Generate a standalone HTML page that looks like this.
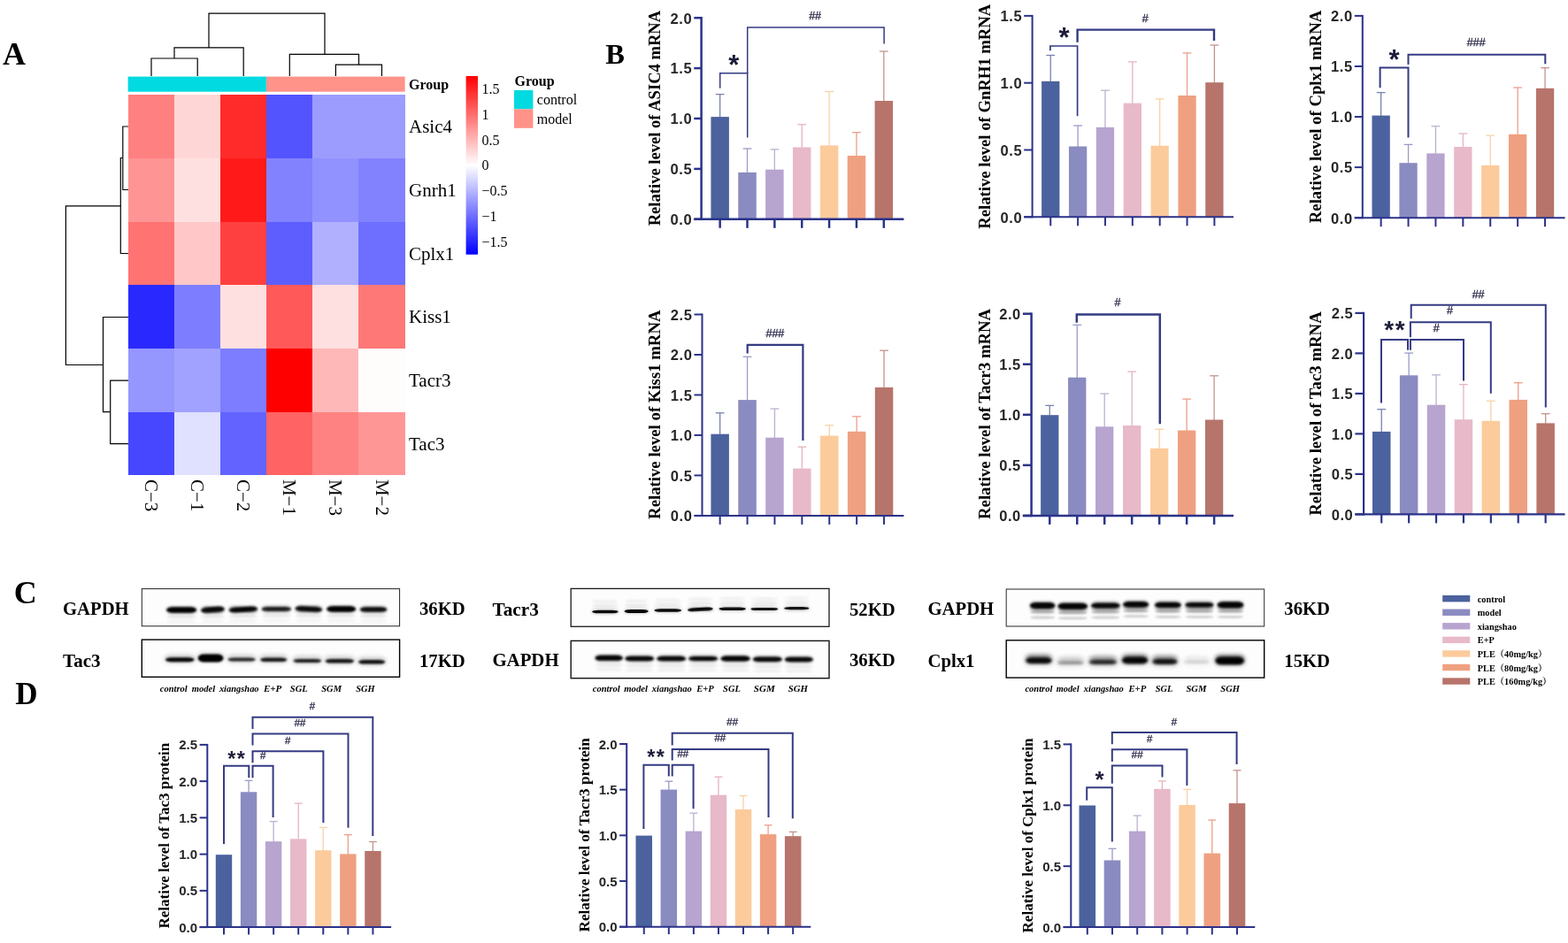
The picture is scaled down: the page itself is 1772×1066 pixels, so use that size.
<!DOCTYPE html>
<html lang="en"><head><meta charset="utf-8"><title>Figure</title>
<style>
html,body{margin:0;padding:0;background:#fff;}
body{width:1772px;height:1066px;overflow:hidden;font-family:"Liberation Serif","Noto Serif CJK SC",serif;}
svg{display:block;}
text{white-space:pre;}
</style></head><body>
<svg width="1772" height="1066" viewBox="0 0 1772 1066">
<rect width="1772" height="1066" fill="#fff"/>
<g id="figure">
<g id="panelA">
<rect x="144.60" y="86.60" width="156.50" height="17.10" fill="#00DAE0"/>
<rect x="301.10" y="86.60" width="156.50" height="17.10" fill="#FF9289"/>
<rect x="145.00" y="107.00" width="52.00" height="72.00" fill="rgb(255,128,128)" shape-rendering="crispEdges"/>
<rect x="197.00" y="107.00" width="52.00" height="72.00" fill="rgb(255,214,214)" shape-rendering="crispEdges"/>
<rect x="249.00" y="107.00" width="52.00" height="72.00" fill="rgb(255,43,43)" shape-rendering="crispEdges"/>
<rect x="301.00" y="107.00" width="52.00" height="72.00" fill="rgb(84,84,255)" shape-rendering="crispEdges"/>
<rect x="353.00" y="107.00" width="52.00" height="72.00" fill="rgb(156,156,255)" shape-rendering="crispEdges"/>
<rect x="405.00" y="107.00" width="53.00" height="72.00" fill="rgb(156,156,255)" shape-rendering="crispEdges"/>
<rect x="145.00" y="179.00" width="52.00" height="72.00" fill="rgb(255,148,148)" shape-rendering="crispEdges"/>
<rect x="197.00" y="179.00" width="52.00" height="72.00" fill="rgb(255,224,224)" shape-rendering="crispEdges"/>
<rect x="249.00" y="179.00" width="52.00" height="72.00" fill="rgb(255,25,25)" shape-rendering="crispEdges"/>
<rect x="301.00" y="179.00" width="52.00" height="72.00" fill="rgb(130,130,255)" shape-rendering="crispEdges"/>
<rect x="353.00" y="179.00" width="52.00" height="72.00" fill="rgb(145,145,255)" shape-rendering="crispEdges"/>
<rect x="405.00" y="179.00" width="53.00" height="72.00" fill="rgb(130,130,255)" shape-rendering="crispEdges"/>
<rect x="145.00" y="251.00" width="52.00" height="71.00" fill="rgb(255,115,115)" shape-rendering="crispEdges"/>
<rect x="197.00" y="251.00" width="52.00" height="71.00" fill="rgb(255,199,199)" shape-rendering="crispEdges"/>
<rect x="249.00" y="251.00" width="52.00" height="71.00" fill="rgb(255,64,64)" shape-rendering="crispEdges"/>
<rect x="301.00" y="251.00" width="52.00" height="71.00" fill="rgb(94,94,255)" shape-rendering="crispEdges"/>
<rect x="353.00" y="251.00" width="52.00" height="71.00" fill="rgb(176,176,255)" shape-rendering="crispEdges"/>
<rect x="405.00" y="251.00" width="53.00" height="71.00" fill="rgb(110,110,255)" shape-rendering="crispEdges"/>
<rect x="145.00" y="322.00" width="52.00" height="72.00" fill="rgb(41,41,255)" shape-rendering="crispEdges"/>
<rect x="197.00" y="322.00" width="52.00" height="72.00" fill="rgb(125,125,255)" shape-rendering="crispEdges"/>
<rect x="249.00" y="322.00" width="52.00" height="72.00" fill="rgb(255,224,224)" shape-rendering="crispEdges"/>
<rect x="301.00" y="322.00" width="52.00" height="72.00" fill="rgb(255,89,89)" shape-rendering="crispEdges"/>
<rect x="353.00" y="322.00" width="52.00" height="72.00" fill="rgb(255,224,224)" shape-rendering="crispEdges"/>
<rect x="405.00" y="322.00" width="53.00" height="72.00" fill="rgb(255,120,120)" shape-rendering="crispEdges"/>
<rect x="145.00" y="394.00" width="52.00" height="72.00" fill="rgb(150,150,255)" shape-rendering="crispEdges"/>
<rect x="197.00" y="394.00" width="52.00" height="72.00" fill="rgb(161,161,255)" shape-rendering="crispEdges"/>
<rect x="249.00" y="394.00" width="52.00" height="72.00" fill="rgb(125,125,255)" shape-rendering="crispEdges"/>
<rect x="301.00" y="394.00" width="52.00" height="72.00" fill="rgb(255,0,0)" shape-rendering="crispEdges"/>
<rect x="353.00" y="394.00" width="52.00" height="72.00" fill="rgb(255,184,184)" shape-rendering="crispEdges"/>
<rect x="405.00" y="394.00" width="53.00" height="72.00" fill="rgb(255,252,252)" shape-rendering="crispEdges"/>
<rect x="145.00" y="466.00" width="52.00" height="71.00" fill="rgb(71,71,255)" shape-rendering="crispEdges"/>
<rect x="197.00" y="466.00" width="52.00" height="71.00" fill="rgb(224,224,255)" shape-rendering="crispEdges"/>
<rect x="249.00" y="466.00" width="52.00" height="71.00" fill="rgb(99,99,255)" shape-rendering="crispEdges"/>
<rect x="301.00" y="466.00" width="52.00" height="71.00" fill="rgb(255,99,99)" shape-rendering="crispEdges"/>
<rect x="353.00" y="466.00" width="52.00" height="71.00" fill="rgb(255,130,130)" shape-rendering="crispEdges"/>
<rect x="405.00" y="466.00" width="53.00" height="71.00" fill="rgb(255,150,150)" shape-rendering="crispEdges"/>
<text x="462.00" y="150.34" font-family="'Liberation Serif','Noto Serif CJK SC',serif" font-size="21">Asic4</text>
<text x="462.00" y="222.02" font-family="'Liberation Serif','Noto Serif CJK SC',serif" font-size="21">Gnrh1</text>
<text x="462.00" y="293.71" font-family="'Liberation Serif','Noto Serif CJK SC',serif" font-size="21">Cplx1</text>
<text x="462.00" y="365.39" font-family="'Liberation Serif','Noto Serif CJK SC',serif" font-size="21">Kiss1</text>
<text x="462.00" y="437.07" font-family="'Liberation Serif','Noto Serif CJK SC',serif" font-size="21">Tacr3</text>
<text x="462.00" y="508.76" font-family="'Liberation Serif','Noto Serif CJK SC',serif" font-size="21">Tac3</text>
<text x="163.78" y="541.90" font-family="'Liberation Serif','Noto Serif CJK SC',serif" font-size="21" transform="rotate(90 163.78 541.90)">C−3</text>
<text x="215.95" y="541.90" font-family="'Liberation Serif','Noto Serif CJK SC',serif" font-size="21" transform="rotate(90 215.95 541.90)">C−1</text>
<text x="268.12" y="541.90" font-family="'Liberation Serif','Noto Serif CJK SC',serif" font-size="21" transform="rotate(90 268.12 541.90)">C−2</text>
<text x="320.28" y="541.90" font-family="'Liberation Serif','Noto Serif CJK SC',serif" font-size="21" transform="rotate(90 320.28 541.90)">M−1</text>
<text x="372.45" y="541.90" font-family="'Liberation Serif','Noto Serif CJK SC',serif" font-size="21" transform="rotate(90 372.45 541.90)">M−3</text>
<text x="424.62" y="541.90" font-family="'Liberation Serif','Noto Serif CJK SC',serif" font-size="21" transform="rotate(90 424.62 541.90)">M−2</text>
<text x="462.00" y="101.30" font-family="'Liberation Serif','Noto Serif CJK SC',serif" font-size="16" font-weight="bold">Group</text>
<path d="M171 86V66H223.2V86" stroke="#000" stroke-width="1.2" fill="none" stroke-linejoin="miter"/>
<path d="M197 66V53.9H275.2V86" stroke="#000" stroke-width="1.2" fill="none" stroke-linejoin="miter"/>
<path d="M236 53.9V15.2H367V61.4" stroke="#000" stroke-width="1.2" fill="none" stroke-linejoin="miter"/>
<path d="M327.3 86V61.4H405.5V73.2" stroke="#000" stroke-width="1.2" fill="none" stroke-linejoin="miter"/>
<path d="M379.4 86V73.2H431.5V86" stroke="#000" stroke-width="1.2" fill="none" stroke-linejoin="miter"/>
<path d="M145 143H138.8V214.5H145" stroke="#000" stroke-width="1.2" fill="none" stroke-linejoin="miter"/>
<path d="M138.8 178.5H136.3V286.5H145" stroke="#000" stroke-width="1.2" fill="none" stroke-linejoin="miter"/>
<path d="M136.3 232.9H74.4V412.5H116.5" stroke="#000" stroke-width="1.2" fill="none" stroke-linejoin="miter"/>
<path d="M145 358.5H116.5V465.7H124.7" stroke="#000" stroke-width="1.2" fill="none" stroke-linejoin="miter"/>
<path d="M145 430.2H124.7V501.6H145" stroke="#000" stroke-width="1.2" fill="none" stroke-linejoin="miter"/>
<defs><linearGradient id="cbg" x1="0" y1="0" x2="0" y2="1"><stop offset="0" stop-color="#ff0000"/><stop offset="0.5" stop-color="#ffffff"/><stop offset="1" stop-color="#0000ff"/></linearGradient></defs>
<rect x="526.60" y="86.00" width="13.40" height="201.70" fill="url(#cbg)"/>
<text x="544.60" y="106.00" font-family="'Liberation Serif','Noto Serif CJK SC',serif" font-size="16">1.5</text>
<text x="544.60" y="135.20" font-family="'Liberation Serif','Noto Serif CJK SC',serif" font-size="16">1</text>
<text x="544.60" y="163.80" font-family="'Liberation Serif','Noto Serif CJK SC',serif" font-size="16">0.5</text>
<text x="544.60" y="192.00" font-family="'Liberation Serif','Noto Serif CJK SC',serif" font-size="16">0</text>
<text x="544.60" y="221.30" font-family="'Liberation Serif','Noto Serif CJK SC',serif" font-size="16">−0.5</text>
<text x="544.60" y="250.30" font-family="'Liberation Serif','Noto Serif CJK SC',serif" font-size="16">−1</text>
<text x="544.60" y="279.00" font-family="'Liberation Serif','Noto Serif CJK SC',serif" font-size="16">−1.5</text>
<text x="581.50" y="96.50" font-family="'Liberation Serif','Noto Serif CJK SC',serif" font-size="16" font-weight="bold">Group</text>
<rect x="581.00" y="102.00" width="21.40" height="21.40" fill="#00DAE0"/>
<rect x="581.00" y="123.40" width="21.40" height="21.40" fill="#FF9289"/>
<text x="606.80" y="118.30" font-family="'Liberation Serif','Noto Serif CJK SC',serif" font-size="16">control</text>
<text x="606.80" y="139.70" font-family="'Liberation Serif','Noto Serif CJK SC',serif" font-size="16">model</text>
</g>
<g id="b1">
<line x1="813.65" y1="132.60" x2="813.65" y2="106.60" stroke="#7783ad" stroke-width="1.3"/>
<line x1="808.75" y1="106.60" x2="818.55" y2="106.60" stroke="#7783ad" stroke-width="1.3"/>
<rect x="803.40" y="132.10" width="20.50" height="115.70" fill="#4B629E"/>
<line x1="844.51" y1="195.40" x2="844.51" y2="168.00" stroke="#9a9bc6" stroke-width="1.3"/>
<line x1="839.61" y1="168.00" x2="849.41" y2="168.00" stroke="#9a9bc6" stroke-width="1.3"/>
<rect x="834.26" y="194.90" width="20.50" height="52.90" fill="#8A8BC0"/>
<line x1="875.37" y1="192.20" x2="875.37" y2="168.90" stroke="#bdb0d0" stroke-width="1.3"/>
<line x1="870.47" y1="168.90" x2="880.27" y2="168.90" stroke="#bdb0d0" stroke-width="1.3"/>
<rect x="865.12" y="191.70" width="20.50" height="56.10" fill="#B7A4CF"/>
<line x1="906.23" y1="167.00" x2="906.23" y2="140.80" stroke="#e3b4c0" stroke-width="1.3"/>
<line x1="901.33" y1="140.80" x2="911.13" y2="140.80" stroke="#e3b4c0" stroke-width="1.3"/>
<rect x="895.98" y="166.50" width="20.50" height="81.30" fill="#E8B9C8"/>
<line x1="937.09" y1="164.90" x2="937.09" y2="103.50" stroke="#f8d2a6" stroke-width="1.3"/>
<line x1="932.19" y1="103.50" x2="941.99" y2="103.50" stroke="#f8d2a6" stroke-width="1.3"/>
<rect x="926.84" y="164.40" width="20.50" height="83.40" fill="#FCCB9C"/>
<line x1="967.95" y1="176.50" x2="967.95" y2="149.70" stroke="#ec9f88" stroke-width="1.3"/>
<line x1="963.05" y1="149.70" x2="972.85" y2="149.70" stroke="#ec9f88" stroke-width="1.3"/>
<rect x="957.70" y="176.00" width="20.50" height="71.80" fill="#EFA081"/>
<line x1="998.81" y1="114.50" x2="998.81" y2="58.00" stroke="#c4938b" stroke-width="1.3"/>
<line x1="993.91" y1="58.00" x2="1003.71" y2="58.00" stroke="#c4938b" stroke-width="1.3"/>
<rect x="988.56" y="114.00" width="20.50" height="133.80" fill="#B7746A"/>
<line x1="792.60" y1="18.95" x2="792.60" y2="249.05" stroke="#2B3289" stroke-width="2.5"/>
<line x1="784.30" y1="247.80" x2="1021.40" y2="247.80" stroke="#2B3289" stroke-width="2.5"/>
<line x1="784.30" y1="247.80" x2="792.60" y2="247.80" stroke="#2B3289" stroke-width="2.5"/>
<text x="782.30" y="254.10" font-family="'Liberation Sans',sans-serif" font-size="16.5" font-weight="bold" text-anchor="end" fill="#262626" letter-spacing="0.6">0.0</text>
<line x1="784.30" y1="190.90" x2="792.60" y2="190.90" stroke="#2B3289" stroke-width="2.5"/>
<text x="782.30" y="197.20" font-family="'Liberation Sans',sans-serif" font-size="16.5" font-weight="bold" text-anchor="end" fill="#262626" letter-spacing="0.6">0.5</text>
<line x1="784.30" y1="134.00" x2="792.60" y2="134.00" stroke="#2B3289" stroke-width="2.5"/>
<text x="782.30" y="140.30" font-family="'Liberation Sans',sans-serif" font-size="16.5" font-weight="bold" text-anchor="end" fill="#262626" letter-spacing="0.6">1.0</text>
<line x1="784.30" y1="77.10" x2="792.60" y2="77.10" stroke="#2B3289" stroke-width="2.5"/>
<text x="782.30" y="83.40" font-family="'Liberation Sans',sans-serif" font-size="16.5" font-weight="bold" text-anchor="end" fill="#262626" letter-spacing="0.6">1.5</text>
<line x1="784.30" y1="20.20" x2="792.60" y2="20.20" stroke="#2B3289" stroke-width="2.5"/>
<text x="782.30" y="26.50" font-family="'Liberation Sans',sans-serif" font-size="16.5" font-weight="bold" text-anchor="end" fill="#262626" letter-spacing="0.6">2.0</text>
<line x1="813.65" y1="247.80" x2="813.65" y2="257.80" stroke="#2B3289" stroke-width="2.5"/>
<line x1="844.51" y1="247.80" x2="844.51" y2="257.80" stroke="#2B3289" stroke-width="2.5"/>
<line x1="875.37" y1="247.80" x2="875.37" y2="257.80" stroke="#2B3289" stroke-width="2.5"/>
<line x1="906.23" y1="247.80" x2="906.23" y2="257.80" stroke="#2B3289" stroke-width="2.5"/>
<line x1="937.09" y1="247.80" x2="937.09" y2="257.80" stroke="#2B3289" stroke-width="2.5"/>
<line x1="967.95" y1="247.80" x2="967.95" y2="257.80" stroke="#2B3289" stroke-width="2.5"/>
<line x1="998.81" y1="247.80" x2="998.81" y2="257.80" stroke="#2B3289" stroke-width="2.5"/>
<text x="746.30" y="255.30" font-family="'Liberation Serif','Noto Serif CJK SC',serif" font-size="18.7" font-weight="bold" transform="rotate(-90 746.30 255.30)" textLength="243.50" lengthAdjust="spacingAndGlyphs">Relative level of ASIC4 mRNA</text>
<path d="M813.70 99.80V82.70H844.70V155.50" stroke="#343b82" stroke-width="1.5" fill="none"/>
<path d="M844.70 82.70V31.00H999.10V49.40" stroke="#343b82" stroke-width="1.5" fill="none"/>
<text x="829.20" y="83.50" font-family="'Liberation Sans',sans-serif" font-size="31" font-weight="bold" text-anchor="middle" fill="#1c1c3a">*</text>
<text x="921.10" y="21.80" font-family="'Liberation Sans',sans-serif" font-size="12.5" text-anchor="middle" fill="#222244" stroke="#222244" stroke-width="0.3">##</text>
</g>
<g id="b2">
<line x1="1187.25" y1="92.40" x2="1187.25" y2="62.50" stroke="#7783ad" stroke-width="1.3"/>
<line x1="1182.35" y1="62.50" x2="1192.15" y2="62.50" stroke="#7783ad" stroke-width="1.3"/>
<rect x="1177.10" y="91.90" width="20.30" height="153.40" fill="#4B629E"/>
<line x1="1218.11" y1="166.00" x2="1218.11" y2="142.00" stroke="#9a9bc6" stroke-width="1.3"/>
<line x1="1213.21" y1="142.00" x2="1223.01" y2="142.00" stroke="#9a9bc6" stroke-width="1.3"/>
<rect x="1207.96" y="165.50" width="20.30" height="79.80" fill="#8A8BC0"/>
<line x1="1248.97" y1="144.40" x2="1248.97" y2="102.20" stroke="#bdb0d0" stroke-width="1.3"/>
<line x1="1244.07" y1="102.20" x2="1253.87" y2="102.20" stroke="#bdb0d0" stroke-width="1.3"/>
<rect x="1238.82" y="143.90" width="20.30" height="101.40" fill="#B7A4CF"/>
<line x1="1279.83" y1="117.10" x2="1279.83" y2="69.90" stroke="#e3b4c0" stroke-width="1.3"/>
<line x1="1274.93" y1="69.90" x2="1284.73" y2="69.90" stroke="#e3b4c0" stroke-width="1.3"/>
<rect x="1269.68" y="116.60" width="20.30" height="128.70" fill="#E8B9C8"/>
<line x1="1310.69" y1="165.20" x2="1310.69" y2="111.90" stroke="#f8d2a6" stroke-width="1.3"/>
<line x1="1305.79" y1="111.90" x2="1315.59" y2="111.90" stroke="#f8d2a6" stroke-width="1.3"/>
<rect x="1300.54" y="164.70" width="20.30" height="80.60" fill="#FCCB9C"/>
<line x1="1341.55" y1="108.50" x2="1341.55" y2="59.90" stroke="#ec9f88" stroke-width="1.3"/>
<line x1="1336.65" y1="59.90" x2="1346.45" y2="59.90" stroke="#ec9f88" stroke-width="1.3"/>
<rect x="1331.40" y="108.00" width="20.30" height="137.30" fill="#EFA081"/>
<line x1="1372.41" y1="93.70" x2="1372.41" y2="51.00" stroke="#c4938b" stroke-width="1.3"/>
<line x1="1367.51" y1="51.00" x2="1377.31" y2="51.00" stroke="#c4938b" stroke-width="1.3"/>
<rect x="1362.26" y="93.20" width="20.30" height="152.10" fill="#B7746A"/>
<line x1="1166.60" y1="16.90" x2="1166.60" y2="246.30" stroke="#2B3289" stroke-width="2.0"/>
<line x1="1157.20" y1="245.30" x2="1394.00" y2="245.30" stroke="#2B3289" stroke-width="2.0"/>
<line x1="1157.20" y1="245.30" x2="1166.60" y2="245.30" stroke="#2B3289" stroke-width="2.0"/>
<text x="1155.20" y="251.60" font-family="'Liberation Sans',sans-serif" font-size="16.5" font-weight="bold" text-anchor="end" fill="#262626" letter-spacing="0.6">0.0</text>
<line x1="1157.20" y1="169.50" x2="1166.60" y2="169.50" stroke="#2B3289" stroke-width="2.0"/>
<text x="1155.20" y="175.80" font-family="'Liberation Sans',sans-serif" font-size="16.5" font-weight="bold" text-anchor="end" fill="#262626" letter-spacing="0.6">0.5</text>
<line x1="1157.20" y1="93.70" x2="1166.60" y2="93.70" stroke="#2B3289" stroke-width="2.0"/>
<text x="1155.20" y="100.00" font-family="'Liberation Sans',sans-serif" font-size="16.5" font-weight="bold" text-anchor="end" fill="#262626" letter-spacing="0.6">1.0</text>
<line x1="1157.20" y1="17.90" x2="1166.60" y2="17.90" stroke="#2B3289" stroke-width="2.0"/>
<text x="1155.20" y="24.20" font-family="'Liberation Sans',sans-serif" font-size="16.5" font-weight="bold" text-anchor="end" fill="#262626" letter-spacing="0.6">1.5</text>
<line x1="1187.25" y1="245.30" x2="1187.25" y2="255.30" stroke="#2B3289" stroke-width="2.0"/>
<line x1="1218.11" y1="245.30" x2="1218.11" y2="255.30" stroke="#2B3289" stroke-width="2.0"/>
<line x1="1248.97" y1="245.30" x2="1248.97" y2="255.30" stroke="#2B3289" stroke-width="2.0"/>
<line x1="1279.83" y1="245.30" x2="1279.83" y2="255.30" stroke="#2B3289" stroke-width="2.0"/>
<line x1="1310.69" y1="245.30" x2="1310.69" y2="255.30" stroke="#2B3289" stroke-width="2.0"/>
<line x1="1341.55" y1="245.30" x2="1341.55" y2="255.30" stroke="#2B3289" stroke-width="2.0"/>
<line x1="1372.41" y1="245.30" x2="1372.41" y2="255.30" stroke="#2B3289" stroke-width="2.0"/>
<text x="1119.30" y="258.70" font-family="'Liberation Serif','Noto Serif CJK SC',serif" font-size="18.7" font-weight="bold" transform="rotate(-90 1119.30 258.70)" textLength="254.00" lengthAdjust="spacingAndGlyphs">Relative level of GnRH1 mRNA</text>
<path d="M1186.90 57.30V52.00H1217.60V131.30" stroke="#343b82" stroke-width="1.7" fill="none"/>
<path d="M1217.60 47.80V33.60H1372.00V46.00" stroke="#343b82" stroke-width="2.4" fill="none"/>
<text x="1202.60" y="53.00" font-family="'Liberation Sans',sans-serif" font-size="31" font-weight="bold" text-anchor="middle" fill="#1c1c3a">*</text>
<text x="1294.30" y="24.70" font-family="'Liberation Sans',sans-serif" font-size="12.5" text-anchor="middle" fill="#222244" stroke="#222244" stroke-width="0.3">#</text>
</g>
<g id="b3">
<line x1="1560.65" y1="131.10" x2="1560.65" y2="104.60" stroke="#7783ad" stroke-width="1.3"/>
<line x1="1555.75" y1="104.60" x2="1565.55" y2="104.60" stroke="#7783ad" stroke-width="1.3"/>
<rect x="1550.50" y="130.60" width="20.30" height="115.60" fill="#4B629E"/>
<line x1="1591.55" y1="184.70" x2="1591.55" y2="163.40" stroke="#9a9bc6" stroke-width="1.3"/>
<line x1="1586.65" y1="163.40" x2="1596.45" y2="163.40" stroke="#9a9bc6" stroke-width="1.3"/>
<rect x="1581.40" y="184.20" width="20.30" height="62.00" fill="#8A8BC0"/>
<line x1="1622.45" y1="173.90" x2="1622.45" y2="142.70" stroke="#bdb0d0" stroke-width="1.3"/>
<line x1="1617.55" y1="142.70" x2="1627.35" y2="142.70" stroke="#bdb0d0" stroke-width="1.3"/>
<rect x="1612.30" y="173.40" width="20.30" height="72.80" fill="#B7A4CF"/>
<line x1="1653.35" y1="166.50" x2="1653.35" y2="151.00" stroke="#e3b4c0" stroke-width="1.3"/>
<line x1="1648.45" y1="151.00" x2="1658.25" y2="151.00" stroke="#e3b4c0" stroke-width="1.3"/>
<rect x="1643.20" y="166.00" width="20.30" height="80.20" fill="#E8B9C8"/>
<line x1="1684.25" y1="187.30" x2="1684.25" y2="153.20" stroke="#f8d2a6" stroke-width="1.3"/>
<line x1="1679.35" y1="153.20" x2="1689.15" y2="153.20" stroke="#f8d2a6" stroke-width="1.3"/>
<rect x="1674.10" y="186.80" width="20.30" height="59.40" fill="#FCCB9C"/>
<line x1="1715.15" y1="152.30" x2="1715.15" y2="99.00" stroke="#ec9f88" stroke-width="1.3"/>
<line x1="1710.25" y1="99.00" x2="1720.05" y2="99.00" stroke="#ec9f88" stroke-width="1.3"/>
<rect x="1705.00" y="151.80" width="20.30" height="94.40" fill="#EFA081"/>
<line x1="1746.05" y1="100.30" x2="1746.05" y2="76.70" stroke="#c4938b" stroke-width="1.3"/>
<line x1="1741.15" y1="76.70" x2="1750.95" y2="76.70" stroke="#c4938b" stroke-width="1.3"/>
<rect x="1735.90" y="99.80" width="20.30" height="146.40" fill="#B7746A"/>
<line x1="1539.80" y1="16.90" x2="1539.80" y2="247.20" stroke="#2B3289" stroke-width="2.0"/>
<line x1="1530.80" y1="246.20" x2="1768.60" y2="246.20" stroke="#2B3289" stroke-width="2.0"/>
<line x1="1530.80" y1="246.20" x2="1539.80" y2="246.20" stroke="#2B3289" stroke-width="2.0"/>
<text x="1528.80" y="252.50" font-family="'Liberation Sans',sans-serif" font-size="16.5" font-weight="bold" text-anchor="end" fill="#262626" letter-spacing="0.6">0.0</text>
<line x1="1530.80" y1="189.12" x2="1539.80" y2="189.12" stroke="#2B3289" stroke-width="2.0"/>
<text x="1528.80" y="195.43" font-family="'Liberation Sans',sans-serif" font-size="16.5" font-weight="bold" text-anchor="end" fill="#262626" letter-spacing="0.6">0.5</text>
<line x1="1530.80" y1="132.05" x2="1539.80" y2="132.05" stroke="#2B3289" stroke-width="2.0"/>
<text x="1528.80" y="138.35" font-family="'Liberation Sans',sans-serif" font-size="16.5" font-weight="bold" text-anchor="end" fill="#262626" letter-spacing="0.6">1.0</text>
<line x1="1530.80" y1="74.97" x2="1539.80" y2="74.97" stroke="#2B3289" stroke-width="2.0"/>
<text x="1528.80" y="81.27" font-family="'Liberation Sans',sans-serif" font-size="16.5" font-weight="bold" text-anchor="end" fill="#262626" letter-spacing="0.6">1.5</text>
<line x1="1530.80" y1="17.90" x2="1539.80" y2="17.90" stroke="#2B3289" stroke-width="2.0"/>
<text x="1528.80" y="24.20" font-family="'Liberation Sans',sans-serif" font-size="16.5" font-weight="bold" text-anchor="end" fill="#262626" letter-spacing="0.6">2.0</text>
<line x1="1560.65" y1="246.20" x2="1560.65" y2="256.20" stroke="#2B3289" stroke-width="2.0"/>
<line x1="1591.55" y1="246.20" x2="1591.55" y2="256.20" stroke="#2B3289" stroke-width="2.0"/>
<line x1="1622.45" y1="246.20" x2="1622.45" y2="256.20" stroke="#2B3289" stroke-width="2.0"/>
<line x1="1653.35" y1="246.20" x2="1653.35" y2="256.20" stroke="#2B3289" stroke-width="2.0"/>
<line x1="1684.25" y1="246.20" x2="1684.25" y2="256.20" stroke="#2B3289" stroke-width="2.0"/>
<line x1="1715.15" y1="246.20" x2="1715.15" y2="256.20" stroke="#2B3289" stroke-width="2.0"/>
<line x1="1746.05" y1="246.20" x2="1746.05" y2="256.20" stroke="#2B3289" stroke-width="2.0"/>
<text x="1493.30" y="252.20" font-family="'Liberation Serif','Noto Serif CJK SC',serif" font-size="18.7" font-weight="bold" transform="rotate(-90 1493.30 252.20)" textLength="240.40" lengthAdjust="spacingAndGlyphs">Relative level of Cplx1 mRNA</text>
<path d="M1559.60 99.30V76.40H1591.50V155.50" stroke="#343b82" stroke-width="2.0" fill="none"/>
<path d="M1591.50 73.00V61.70H1746.30V72.20" stroke="#343b82" stroke-width="2.0" fill="none"/>
<text x="1575.50" y="78.20" font-family="'Liberation Sans',sans-serif" font-size="31" font-weight="bold" text-anchor="middle" fill="#1c1c3a">*</text>
<text x="1668.20" y="52.10" font-family="'Liberation Sans',sans-serif" font-size="12.5" text-anchor="middle" fill="#222244" stroke="#222244" stroke-width="0.3">###</text>
</g>
<g id="b4">
<line x1="813.65" y1="491.20" x2="813.65" y2="466.80" stroke="#7783ad" stroke-width="1.3"/>
<line x1="808.75" y1="466.80" x2="818.55" y2="466.80" stroke="#7783ad" stroke-width="1.3"/>
<rect x="803.40" y="490.70" width="20.50" height="92.20" fill="#4B629E"/>
<line x1="844.55" y1="452.60" x2="844.55" y2="403.30" stroke="#9a9bc6" stroke-width="1.3"/>
<line x1="839.65" y1="403.30" x2="849.45" y2="403.30" stroke="#9a9bc6" stroke-width="1.3"/>
<rect x="834.30" y="452.10" width="20.50" height="130.80" fill="#8A8BC0"/>
<line x1="875.45" y1="495.20" x2="875.45" y2="462.10" stroke="#bdb0d0" stroke-width="1.3"/>
<line x1="870.55" y1="462.10" x2="880.35" y2="462.10" stroke="#bdb0d0" stroke-width="1.3"/>
<rect x="865.20" y="494.70" width="20.50" height="88.20" fill="#B7A4CF"/>
<line x1="906.35" y1="530.10" x2="906.35" y2="505.20" stroke="#e3b4c0" stroke-width="1.3"/>
<line x1="901.45" y1="505.20" x2="911.25" y2="505.20" stroke="#e3b4c0" stroke-width="1.3"/>
<rect x="896.10" y="529.60" width="20.50" height="53.30" fill="#E8B9C8"/>
<line x1="937.25" y1="493.10" x2="937.25" y2="480.80" stroke="#f8d2a6" stroke-width="1.3"/>
<line x1="932.35" y1="480.80" x2="942.15" y2="480.80" stroke="#f8d2a6" stroke-width="1.3"/>
<rect x="927.00" y="492.60" width="20.50" height="90.30" fill="#FCCB9C"/>
<line x1="968.15" y1="488.30" x2="968.15" y2="470.80" stroke="#ec9f88" stroke-width="1.3"/>
<line x1="963.25" y1="470.80" x2="973.05" y2="470.80" stroke="#ec9f88" stroke-width="1.3"/>
<rect x="957.90" y="487.80" width="20.50" height="95.10" fill="#EFA081"/>
<line x1="999.05" y1="438.40" x2="999.05" y2="396.20" stroke="#c4938b" stroke-width="1.3"/>
<line x1="994.15" y1="396.20" x2="1003.95" y2="396.20" stroke="#c4938b" stroke-width="1.3"/>
<rect x="988.80" y="437.90" width="20.50" height="145.00" fill="#B7746A"/>
<line x1="793.50" y1="354.50" x2="793.50" y2="583.90" stroke="#2B3289" stroke-width="2.0"/>
<line x1="784.50" y1="582.90" x2="1021.40" y2="582.90" stroke="#2B3289" stroke-width="2.0"/>
<line x1="784.50" y1="582.90" x2="793.50" y2="582.90" stroke="#2B3289" stroke-width="2.0"/>
<text x="782.50" y="589.20" font-family="'Liberation Sans',sans-serif" font-size="16.5" font-weight="bold" text-anchor="end" fill="#262626" letter-spacing="0.6">0.0</text>
<line x1="784.50" y1="537.42" x2="793.50" y2="537.42" stroke="#2B3289" stroke-width="2.0"/>
<text x="782.50" y="543.72" font-family="'Liberation Sans',sans-serif" font-size="16.5" font-weight="bold" text-anchor="end" fill="#262626" letter-spacing="0.6">0.5</text>
<line x1="784.50" y1="491.94" x2="793.50" y2="491.94" stroke="#2B3289" stroke-width="2.0"/>
<text x="782.50" y="498.24" font-family="'Liberation Sans',sans-serif" font-size="16.5" font-weight="bold" text-anchor="end" fill="#262626" letter-spacing="0.6">1.0</text>
<line x1="784.50" y1="446.46" x2="793.50" y2="446.46" stroke="#2B3289" stroke-width="2.0"/>
<text x="782.50" y="452.76" font-family="'Liberation Sans',sans-serif" font-size="16.5" font-weight="bold" text-anchor="end" fill="#262626" letter-spacing="0.6">1.5</text>
<line x1="784.50" y1="400.98" x2="793.50" y2="400.98" stroke="#2B3289" stroke-width="2.0"/>
<text x="782.50" y="407.28" font-family="'Liberation Sans',sans-serif" font-size="16.5" font-weight="bold" text-anchor="end" fill="#262626" letter-spacing="0.6">2.0</text>
<line x1="784.50" y1="355.50" x2="793.50" y2="355.50" stroke="#2B3289" stroke-width="2.0"/>
<text x="782.50" y="361.80" font-family="'Liberation Sans',sans-serif" font-size="16.5" font-weight="bold" text-anchor="end" fill="#262626" letter-spacing="0.6">2.5</text>
<line x1="813.65" y1="582.90" x2="813.65" y2="592.90" stroke="#2B3289" stroke-width="2.0"/>
<line x1="844.55" y1="582.90" x2="844.55" y2="592.90" stroke="#2B3289" stroke-width="2.0"/>
<line x1="875.45" y1="582.90" x2="875.45" y2="592.90" stroke="#2B3289" stroke-width="2.0"/>
<line x1="906.35" y1="582.90" x2="906.35" y2="592.90" stroke="#2B3289" stroke-width="2.0"/>
<line x1="937.25" y1="582.90" x2="937.25" y2="592.90" stroke="#2B3289" stroke-width="2.0"/>
<line x1="968.15" y1="582.90" x2="968.15" y2="592.90" stroke="#2B3289" stroke-width="2.0"/>
<line x1="999.05" y1="582.90" x2="999.05" y2="592.90" stroke="#2B3289" stroke-width="2.0"/>
<text x="746.30" y="586.90" font-family="'Liberation Serif','Noto Serif CJK SC',serif" font-size="18.7" font-weight="bold" transform="rotate(-90 746.30 586.90)" textLength="236.40" lengthAdjust="spacingAndGlyphs">Relative level of Kiss1 mRNA</text>
<path d="M844.70 399.60V389.90H907.40V498.10" stroke="#343b82" stroke-width="2.2" fill="none"/>
<text x="875.90" y="380.50" font-family="'Liberation Sans',sans-serif" font-size="12.5" text-anchor="middle" fill="#222244" stroke="#222244" stroke-width="0.3">###</text>
</g>
<g id="b5">
<line x1="1186.25" y1="469.70" x2="1186.25" y2="458.40" stroke="#7783ad" stroke-width="1.3"/>
<line x1="1181.35" y1="458.40" x2="1191.15" y2="458.40" stroke="#7783ad" stroke-width="1.3"/>
<rect x="1176.10" y="469.20" width="20.30" height="113.70" fill="#4B629E"/>
<line x1="1217.23" y1="427.20" x2="1217.23" y2="367.30" stroke="#9a9bc6" stroke-width="1.3"/>
<line x1="1212.33" y1="367.30" x2="1222.13" y2="367.30" stroke="#9a9bc6" stroke-width="1.3"/>
<rect x="1207.08" y="426.70" width="20.30" height="156.20" fill="#8A8BC0"/>
<line x1="1248.21" y1="482.80" x2="1248.21" y2="445.00" stroke="#bdb0d0" stroke-width="1.3"/>
<line x1="1243.31" y1="445.00" x2="1253.11" y2="445.00" stroke="#bdb0d0" stroke-width="1.3"/>
<rect x="1238.06" y="482.30" width="20.30" height="100.60" fill="#B7A4CF"/>
<line x1="1279.19" y1="481.50" x2="1279.19" y2="420.10" stroke="#e3b4c0" stroke-width="1.3"/>
<line x1="1274.29" y1="420.10" x2="1284.09" y2="420.10" stroke="#e3b4c0" stroke-width="1.3"/>
<rect x="1269.04" y="481.00" width="20.30" height="101.90" fill="#E8B9C8"/>
<line x1="1310.17" y1="507.30" x2="1310.17" y2="485.20" stroke="#f8d2a6" stroke-width="1.3"/>
<line x1="1305.27" y1="485.20" x2="1315.07" y2="485.20" stroke="#f8d2a6" stroke-width="1.3"/>
<rect x="1300.02" y="506.80" width="20.30" height="76.10" fill="#FCCB9C"/>
<line x1="1341.15" y1="487.00" x2="1341.15" y2="451.10" stroke="#ec9f88" stroke-width="1.3"/>
<line x1="1336.25" y1="451.10" x2="1346.05" y2="451.10" stroke="#ec9f88" stroke-width="1.3"/>
<rect x="1331.00" y="486.50" width="20.30" height="96.40" fill="#EFA081"/>
<line x1="1372.13" y1="475.00" x2="1372.13" y2="424.80" stroke="#c4938b" stroke-width="1.3"/>
<line x1="1367.23" y1="424.80" x2="1377.03" y2="424.80" stroke="#c4938b" stroke-width="1.3"/>
<rect x="1361.98" y="474.50" width="20.30" height="108.40" fill="#B7746A"/>
<line x1="1165.60" y1="353.45" x2="1165.60" y2="584.15" stroke="#2B3289" stroke-width="2.5"/>
<line x1="1155.90" y1="582.90" x2="1394.00" y2="582.90" stroke="#2B3289" stroke-width="2.5"/>
<line x1="1155.90" y1="582.90" x2="1165.60" y2="582.90" stroke="#2B3289" stroke-width="2.5"/>
<text x="1153.90" y="589.20" font-family="'Liberation Sans',sans-serif" font-size="16.5" font-weight="bold" text-anchor="end" fill="#262626" letter-spacing="0.6">0.0</text>
<line x1="1155.90" y1="525.85" x2="1165.60" y2="525.85" stroke="#2B3289" stroke-width="2.5"/>
<text x="1153.90" y="532.15" font-family="'Liberation Sans',sans-serif" font-size="16.5" font-weight="bold" text-anchor="end" fill="#262626" letter-spacing="0.6">0.5</text>
<line x1="1155.90" y1="468.80" x2="1165.60" y2="468.80" stroke="#2B3289" stroke-width="2.5"/>
<text x="1153.90" y="475.10" font-family="'Liberation Sans',sans-serif" font-size="16.5" font-weight="bold" text-anchor="end" fill="#262626" letter-spacing="0.6">1.0</text>
<line x1="1155.90" y1="411.75" x2="1165.60" y2="411.75" stroke="#2B3289" stroke-width="2.5"/>
<text x="1153.90" y="418.05" font-family="'Liberation Sans',sans-serif" font-size="16.5" font-weight="bold" text-anchor="end" fill="#262626" letter-spacing="0.6">1.5</text>
<line x1="1155.90" y1="354.70" x2="1165.60" y2="354.70" stroke="#2B3289" stroke-width="2.5"/>
<text x="1153.90" y="361.00" font-family="'Liberation Sans',sans-serif" font-size="16.5" font-weight="bold" text-anchor="end" fill="#262626" letter-spacing="0.6">2.0</text>
<line x1="1186.25" y1="582.90" x2="1186.25" y2="592.90" stroke="#2B3289" stroke-width="2.5"/>
<line x1="1217.23" y1="582.90" x2="1217.23" y2="592.90" stroke="#2B3289" stroke-width="2.5"/>
<line x1="1248.21" y1="582.90" x2="1248.21" y2="592.90" stroke="#2B3289" stroke-width="2.5"/>
<line x1="1279.19" y1="582.90" x2="1279.19" y2="592.90" stroke="#2B3289" stroke-width="2.5"/>
<line x1="1310.17" y1="582.90" x2="1310.17" y2="592.90" stroke="#2B3289" stroke-width="2.5"/>
<line x1="1341.15" y1="582.90" x2="1341.15" y2="592.90" stroke="#2B3289" stroke-width="2.5"/>
<line x1="1372.13" y1="582.90" x2="1372.13" y2="592.90" stroke="#2B3289" stroke-width="2.5"/>
<text x="1119.30" y="586.90" font-family="'Liberation Serif','Noto Serif CJK SC',serif" font-size="18.7" font-weight="bold" transform="rotate(-90 1119.30 586.90)" textLength="238.00" lengthAdjust="spacingAndGlyphs">Relative level of Tacr3 mRNA</text>
<path d="M1216.80 364.70V355.50H1310.80V479.20" stroke="#343b82" stroke-width="2.5" fill="none"/>
<text x="1263.00" y="346.10" font-family="'Liberation Sans',sans-serif" font-size="12.5" text-anchor="middle" fill="#222244" stroke="#222244" stroke-width="0.3">#</text>
</g>
<g id="b6">
<line x1="1561.25" y1="488.40" x2="1561.25" y2="462.70" stroke="#7783ad" stroke-width="1.3"/>
<line x1="1556.35" y1="462.70" x2="1566.15" y2="462.70" stroke="#7783ad" stroke-width="1.3"/>
<rect x="1551.00" y="487.90" width="20.50" height="93.50" fill="#4B629E"/>
<line x1="1592.15" y1="424.80" x2="1592.15" y2="399.10" stroke="#9a9bc6" stroke-width="1.3"/>
<line x1="1587.25" y1="399.10" x2="1597.05" y2="399.10" stroke="#9a9bc6" stroke-width="1.3"/>
<rect x="1581.90" y="424.30" width="20.50" height="157.10" fill="#8A8BC0"/>
<line x1="1623.05" y1="458.20" x2="1623.05" y2="423.80" stroke="#bdb0d0" stroke-width="1.3"/>
<line x1="1618.15" y1="423.80" x2="1627.95" y2="423.80" stroke="#bdb0d0" stroke-width="1.3"/>
<rect x="1612.80" y="457.70" width="20.50" height="123.70" fill="#B7A4CF"/>
<line x1="1653.95" y1="474.70" x2="1653.95" y2="434.60" stroke="#e3b4c0" stroke-width="1.3"/>
<line x1="1649.05" y1="434.60" x2="1658.85" y2="434.60" stroke="#e3b4c0" stroke-width="1.3"/>
<rect x="1643.70" y="474.20" width="20.50" height="107.20" fill="#E8B9C8"/>
<line x1="1684.85" y1="476.30" x2="1684.85" y2="453.20" stroke="#f8d2a6" stroke-width="1.3"/>
<line x1="1679.95" y1="453.20" x2="1689.75" y2="453.20" stroke="#f8d2a6" stroke-width="1.3"/>
<rect x="1674.60" y="475.80" width="20.50" height="105.60" fill="#FCCB9C"/>
<line x1="1715.75" y1="452.40" x2="1715.75" y2="432.70" stroke="#ec9f88" stroke-width="1.3"/>
<line x1="1710.85" y1="432.70" x2="1720.65" y2="432.70" stroke="#ec9f88" stroke-width="1.3"/>
<rect x="1705.50" y="451.90" width="20.50" height="129.50" fill="#EFA081"/>
<line x1="1746.65" y1="478.90" x2="1746.65" y2="467.70" stroke="#c4938b" stroke-width="1.3"/>
<line x1="1741.75" y1="467.70" x2="1751.55" y2="467.70" stroke="#c4938b" stroke-width="1.3"/>
<rect x="1736.40" y="478.40" width="20.50" height="103.00" fill="#B7746A"/>
<line x1="1541.10" y1="352.80" x2="1541.10" y2="582.50" stroke="#2B3289" stroke-width="2.2"/>
<line x1="1531.40" y1="581.40" x2="1768.60" y2="581.40" stroke="#2B3289" stroke-width="2.2"/>
<line x1="1531.40" y1="581.40" x2="1541.10" y2="581.40" stroke="#2B3289" stroke-width="2.2"/>
<text x="1529.40" y="587.70" font-family="'Liberation Sans',sans-serif" font-size="16.5" font-weight="bold" text-anchor="end" fill="#262626" letter-spacing="0.6">0.0</text>
<line x1="1531.40" y1="535.90" x2="1541.10" y2="535.90" stroke="#2B3289" stroke-width="2.2"/>
<text x="1529.40" y="542.20" font-family="'Liberation Sans',sans-serif" font-size="16.5" font-weight="bold" text-anchor="end" fill="#262626" letter-spacing="0.6">0.5</text>
<line x1="1531.40" y1="490.40" x2="1541.10" y2="490.40" stroke="#2B3289" stroke-width="2.2"/>
<text x="1529.40" y="496.70" font-family="'Liberation Sans',sans-serif" font-size="16.5" font-weight="bold" text-anchor="end" fill="#262626" letter-spacing="0.6">1.0</text>
<line x1="1531.40" y1="444.90" x2="1541.10" y2="444.90" stroke="#2B3289" stroke-width="2.2"/>
<text x="1529.40" y="451.20" font-family="'Liberation Sans',sans-serif" font-size="16.5" font-weight="bold" text-anchor="end" fill="#262626" letter-spacing="0.6">1.5</text>
<line x1="1531.40" y1="399.40" x2="1541.10" y2="399.40" stroke="#2B3289" stroke-width="2.2"/>
<text x="1529.40" y="405.70" font-family="'Liberation Sans',sans-serif" font-size="16.5" font-weight="bold" text-anchor="end" fill="#262626" letter-spacing="0.6">2.0</text>
<line x1="1531.40" y1="353.90" x2="1541.10" y2="353.90" stroke="#2B3289" stroke-width="2.2"/>
<text x="1529.40" y="360.20" font-family="'Liberation Sans',sans-serif" font-size="16.5" font-weight="bold" text-anchor="end" fill="#262626" letter-spacing="0.6">2.5</text>
<line x1="1561.25" y1="581.40" x2="1561.25" y2="591.40" stroke="#2B3289" stroke-width="2.2"/>
<line x1="1592.15" y1="581.40" x2="1592.15" y2="591.40" stroke="#2B3289" stroke-width="2.2"/>
<line x1="1623.05" y1="581.40" x2="1623.05" y2="591.40" stroke="#2B3289" stroke-width="2.2"/>
<line x1="1653.95" y1="581.40" x2="1653.95" y2="591.40" stroke="#2B3289" stroke-width="2.2"/>
<line x1="1684.85" y1="581.40" x2="1684.85" y2="591.40" stroke="#2B3289" stroke-width="2.2"/>
<line x1="1715.75" y1="581.40" x2="1715.75" y2="591.40" stroke="#2B3289" stroke-width="2.2"/>
<line x1="1746.65" y1="581.40" x2="1746.65" y2="591.40" stroke="#2B3289" stroke-width="2.2"/>
<text x="1493.30" y="582.70" font-family="'Liberation Serif','Noto Serif CJK SC',serif" font-size="18.7" font-weight="bold" transform="rotate(-90 1493.30 582.70)" textLength="230.40" lengthAdjust="spacingAndGlyphs">Relative level of Tac3 mRNA</text>
<path d="M1561.00 455.60V383.90H1591.00V395.70" stroke="#343b82" stroke-width="2.0" fill="none"/>
<path d="M1593.90 395.70V383.90H1654.00V430.60" stroke="#343b82" stroke-width="2.0" fill="none"/>
<path d="M1593.90 381.20V364.20H1684.80V444.80" stroke="#343b82" stroke-width="2.0" fill="none"/>
<path d="M1594.70 360.20V344.70H1746.80V460.60" stroke="#343b82" stroke-width="2.0" fill="none"/>
<text x="1576.86" y="382.23" font-family="'Liberation Sans',sans-serif" font-size="27.9" font-weight="bold" text-anchor="middle" fill="#1c1c3a" letter-spacing="1.71">**</text>
<text x="1623.30" y="374.50" font-family="'Liberation Sans',sans-serif" font-size="12.5" text-anchor="middle" fill="#222244" stroke="#222244" stroke-width="0.3">#</text>
<text x="1638.50" y="355.00" font-family="'Liberation Sans',sans-serif" font-size="12.5" text-anchor="middle" fill="#222244" stroke="#222244" stroke-width="0.3">#</text>
<text x="1670.60" y="336.50" font-family="'Liberation Sans',sans-serif" font-size="12.5" text-anchor="middle" fill="#222244" stroke="#222244" stroke-width="0.3">##</text>
</g>
<g id="d1">
<rect x="243.80" y="966.20" width="18.40" height="81.90" fill="#4B629E"/>
<line x1="281.07" y1="895.80" x2="281.07" y2="882.40" stroke="#9a9bc6" stroke-width="1.3"/>
<line x1="276.61" y1="882.40" x2="285.53" y2="882.40" stroke="#9a9bc6" stroke-width="1.3"/>
<rect x="271.87" y="895.30" width="18.40" height="152.80" fill="#8A8BC0"/>
<line x1="309.14" y1="951.70" x2="309.14" y2="928.60" stroke="#bdb0d0" stroke-width="1.3"/>
<line x1="304.68" y1="928.60" x2="313.60" y2="928.60" stroke="#bdb0d0" stroke-width="1.3"/>
<rect x="299.94" y="951.20" width="18.40" height="96.90" fill="#B7A4CF"/>
<line x1="337.21" y1="948.80" x2="337.21" y2="908.10" stroke="#e3b4c0" stroke-width="1.3"/>
<line x1="332.75" y1="908.10" x2="341.67" y2="908.10" stroke="#e3b4c0" stroke-width="1.3"/>
<rect x="328.01" y="948.30" width="18.40" height="99.80" fill="#E8B9C8"/>
<line x1="365.28" y1="961.70" x2="365.28" y2="935.40" stroke="#f8d2a6" stroke-width="1.3"/>
<line x1="360.82" y1="935.40" x2="369.74" y2="935.40" stroke="#f8d2a6" stroke-width="1.3"/>
<rect x="356.08" y="961.20" width="18.40" height="86.90" fill="#FCCB9C"/>
<line x1="393.35" y1="965.90" x2="393.35" y2="943.60" stroke="#ec9f88" stroke-width="1.3"/>
<line x1="388.89" y1="943.60" x2="397.81" y2="943.60" stroke="#ec9f88" stroke-width="1.3"/>
<rect x="384.15" y="965.40" width="18.40" height="82.70" fill="#EFA081"/>
<line x1="421.42" y1="962.50" x2="421.42" y2="951.50" stroke="#c4938b" stroke-width="1.3"/>
<line x1="416.96" y1="951.50" x2="425.88" y2="951.50" stroke="#c4938b" stroke-width="1.3"/>
<rect x="412.22" y="962.00" width="18.40" height="86.10" fill="#B7746A"/>
<line x1="234.30" y1="840.90" x2="234.30" y2="1049.10" stroke="#2B3289" stroke-width="2.0"/>
<line x1="225.60" y1="1048.10" x2="442.10" y2="1048.10" stroke="#2B3289" stroke-width="2.0"/>
<line x1="225.60" y1="1048.10" x2="234.30" y2="1048.10" stroke="#2B3289" stroke-width="2.0"/>
<text x="223.00" y="1053.60" font-family="'Liberation Sans',sans-serif" font-size="15" font-weight="bold" text-anchor="end" fill="#262626">0.0</text>
<line x1="225.60" y1="1006.86" x2="234.30" y2="1006.86" stroke="#2B3289" stroke-width="2.0"/>
<text x="223.00" y="1012.36" font-family="'Liberation Sans',sans-serif" font-size="15" font-weight="bold" text-anchor="end" fill="#262626">0.5</text>
<line x1="225.60" y1="965.62" x2="234.30" y2="965.62" stroke="#2B3289" stroke-width="2.0"/>
<text x="223.00" y="971.12" font-family="'Liberation Sans',sans-serif" font-size="15" font-weight="bold" text-anchor="end" fill="#262626">1.0</text>
<line x1="225.60" y1="924.38" x2="234.30" y2="924.38" stroke="#2B3289" stroke-width="2.0"/>
<text x="223.00" y="929.88" font-family="'Liberation Sans',sans-serif" font-size="15" font-weight="bold" text-anchor="end" fill="#262626">1.5</text>
<line x1="225.60" y1="883.14" x2="234.30" y2="883.14" stroke="#2B3289" stroke-width="2.0"/>
<text x="223.00" y="888.64" font-family="'Liberation Sans',sans-serif" font-size="15" font-weight="bold" text-anchor="end" fill="#262626">2.0</text>
<line x1="225.60" y1="841.90" x2="234.30" y2="841.90" stroke="#2B3289" stroke-width="2.0"/>
<text x="223.00" y="847.40" font-family="'Liberation Sans',sans-serif" font-size="15" font-weight="bold" text-anchor="end" fill="#262626">2.5</text>
<line x1="253.00" y1="1048.10" x2="253.00" y2="1056.50" stroke="#2B3289" stroke-width="2.0"/>
<line x1="281.07" y1="1048.10" x2="281.07" y2="1056.50" stroke="#2B3289" stroke-width="2.0"/>
<line x1="309.14" y1="1048.10" x2="309.14" y2="1056.50" stroke="#2B3289" stroke-width="2.0"/>
<line x1="337.21" y1="1048.10" x2="337.21" y2="1056.50" stroke="#2B3289" stroke-width="2.0"/>
<line x1="365.28" y1="1048.10" x2="365.28" y2="1056.50" stroke="#2B3289" stroke-width="2.0"/>
<line x1="393.35" y1="1048.10" x2="393.35" y2="1056.50" stroke="#2B3289" stroke-width="2.0"/>
<line x1="421.42" y1="1048.10" x2="421.42" y2="1056.50" stroke="#2B3289" stroke-width="2.0"/>
<text x="191.30" y="1049.40" font-family="'Liberation Serif','Noto Serif CJK SC',serif" font-size="17.6" font-weight="bold" transform="rotate(-90 191.30 1049.40)" textLength="209.60" lengthAdjust="spacingAndGlyphs">Relative level of Tac3 protein</text>
<path d="M253.00 954.10V865.80H281.30V879.20" stroke="#343b82" stroke-width="2.0" fill="none"/>
<path d="M285.50 879.20V865.80H308.60V923.90" stroke="#343b82" stroke-width="2.0" fill="none"/>
<path d="M285.50 862.20V849.30H365.40V929.90" stroke="#343b82" stroke-width="2.0" fill="none"/>
<path d="M285.50 842.50V829.60H393.50V935.70" stroke="#343b82" stroke-width="2.0" fill="none"/>
<path d="M285.50 824.10V810.70H421.30V944.90" stroke="#343b82" stroke-width="2.0" fill="none"/>
<text x="267.81" y="865.65" font-family="'Liberation Sans',sans-serif" font-size="23.4" font-weight="bold" text-anchor="middle" fill="#1c1c3a" letter-spacing="1.43">**</text>
<text x="297.10" y="857.89" font-family="'Liberation Sans',sans-serif" font-size="11.38" text-anchor="middle" fill="#222244" stroke="#222244" stroke-width="0.3">#</text>
<text x="325.20" y="840.80" font-family="'Liberation Sans',sans-serif" font-size="11.38" text-anchor="middle" fill="#222244" stroke="#222244" stroke-width="0.3">#</text>
<text x="339.10" y="820.80" font-family="'Liberation Sans',sans-serif" font-size="11.38" text-anchor="middle" fill="#222244" stroke="#222244" stroke-width="0.3">##</text>
<text x="353.00" y="802.20" font-family="'Liberation Sans',sans-serif" font-size="11.38" text-anchor="middle" fill="#222244" stroke="#222244" stroke-width="0.3">#</text>
</g>
<g id="d2">
<rect x="718.50" y="944.60" width="18.50" height="103.10" fill="#4B629E"/>
<line x1="755.82" y1="893.10" x2="755.82" y2="883.20" stroke="#9a9bc6" stroke-width="1.3"/>
<line x1="751.36" y1="883.20" x2="760.28" y2="883.20" stroke="#9a9bc6" stroke-width="1.3"/>
<rect x="746.57" y="892.60" width="18.50" height="155.10" fill="#8A8BC0"/>
<line x1="783.89" y1="940.10" x2="783.89" y2="919.20" stroke="#bdb0d0" stroke-width="1.3"/>
<line x1="779.43" y1="919.20" x2="788.35" y2="919.20" stroke="#bdb0d0" stroke-width="1.3"/>
<rect x="774.64" y="939.60" width="18.50" height="108.10" fill="#B7A4CF"/>
<line x1="811.96" y1="899.20" x2="811.96" y2="878.20" stroke="#e3b4c0" stroke-width="1.3"/>
<line x1="807.50" y1="878.20" x2="816.42" y2="878.20" stroke="#e3b4c0" stroke-width="1.3"/>
<rect x="802.71" y="898.70" width="18.50" height="149.00" fill="#E8B9C8"/>
<line x1="840.03" y1="915.50" x2="840.03" y2="899.50" stroke="#f8d2a6" stroke-width="1.3"/>
<line x1="835.57" y1="899.50" x2="844.49" y2="899.50" stroke="#f8d2a6" stroke-width="1.3"/>
<rect x="830.78" y="915.00" width="18.50" height="132.70" fill="#FCCB9C"/>
<line x1="868.10" y1="943.60" x2="868.10" y2="932.80" stroke="#ec9f88" stroke-width="1.3"/>
<line x1="863.64" y1="932.80" x2="872.56" y2="932.80" stroke="#ec9f88" stroke-width="1.3"/>
<rect x="858.85" y="943.10" width="18.50" height="104.60" fill="#EFA081"/>
<line x1="896.17" y1="945.70" x2="896.17" y2="940.40" stroke="#c4938b" stroke-width="1.3"/>
<line x1="891.71" y1="940.40" x2="900.63" y2="940.40" stroke="#c4938b" stroke-width="1.3"/>
<rect x="886.92" y="945.20" width="18.50" height="102.50" fill="#B7746A"/>
<line x1="708.20" y1="840.00" x2="708.20" y2="1048.70" stroke="#2B3289" stroke-width="2.0"/>
<line x1="700.10" y1="1047.70" x2="916.30" y2="1047.70" stroke="#2B3289" stroke-width="2.0"/>
<line x1="700.10" y1="1047.70" x2="708.20" y2="1047.70" stroke="#2B3289" stroke-width="2.0"/>
<text x="697.50" y="1053.20" font-family="'Liberation Sans',sans-serif" font-size="15" font-weight="bold" text-anchor="end" fill="#262626">0.0</text>
<line x1="700.10" y1="996.03" x2="708.20" y2="996.03" stroke="#2B3289" stroke-width="2.0"/>
<text x="697.50" y="1001.53" font-family="'Liberation Sans',sans-serif" font-size="15" font-weight="bold" text-anchor="end" fill="#262626">0.5</text>
<line x1="700.10" y1="944.35" x2="708.20" y2="944.35" stroke="#2B3289" stroke-width="2.0"/>
<text x="697.50" y="949.85" font-family="'Liberation Sans',sans-serif" font-size="15" font-weight="bold" text-anchor="end" fill="#262626">1.0</text>
<line x1="700.10" y1="892.67" x2="708.20" y2="892.67" stroke="#2B3289" stroke-width="2.0"/>
<text x="697.50" y="898.17" font-family="'Liberation Sans',sans-serif" font-size="15" font-weight="bold" text-anchor="end" fill="#262626">1.5</text>
<line x1="700.10" y1="841.00" x2="708.20" y2="841.00" stroke="#2B3289" stroke-width="2.0"/>
<text x="697.50" y="846.50" font-family="'Liberation Sans',sans-serif" font-size="15" font-weight="bold" text-anchor="end" fill="#262626">2.0</text>
<line x1="727.75" y1="1047.70" x2="727.75" y2="1056.10" stroke="#2B3289" stroke-width="2.0"/>
<line x1="755.82" y1="1047.70" x2="755.82" y2="1056.10" stroke="#2B3289" stroke-width="2.0"/>
<line x1="783.89" y1="1047.70" x2="783.89" y2="1056.10" stroke="#2B3289" stroke-width="2.0"/>
<line x1="811.96" y1="1047.70" x2="811.96" y2="1056.10" stroke="#2B3289" stroke-width="2.0"/>
<line x1="840.03" y1="1047.70" x2="840.03" y2="1056.10" stroke="#2B3289" stroke-width="2.0"/>
<line x1="868.10" y1="1047.70" x2="868.10" y2="1056.10" stroke="#2B3289" stroke-width="2.0"/>
<line x1="896.17" y1="1047.70" x2="896.17" y2="1056.10" stroke="#2B3289" stroke-width="2.0"/>
<text x="666.10" y="1053.40" font-family="'Liberation Serif','Noto Serif CJK SC',serif" font-size="17.6" font-weight="bold" transform="rotate(-90 666.10 1053.40)" textLength="219.30" lengthAdjust="spacingAndGlyphs">Relative level of Tacr3 protein</text>
<path d="M727.40 937.00V864.80H755.80V877.40" stroke="#343b82" stroke-width="2.0" fill="none"/>
<path d="M759.70 877.40V864.80H783.60V914.20" stroke="#343b82" stroke-width="2.0" fill="none"/>
<path d="M759.70 859.50V846.90H868.50V923.90" stroke="#343b82" stroke-width="2.0" fill="none"/>
<path d="M759.70 842.50V828.80H895.80V925.20" stroke="#343b82" stroke-width="2.0" fill="none"/>
<text x="741.82" y="864.05" font-family="'Liberation Sans',sans-serif" font-size="23.4" font-weight="bold" text-anchor="middle" fill="#1c1c3a" letter-spacing="1.43">**</text>
<text x="771.80" y="856.30" font-family="'Liberation Sans',sans-serif" font-size="11.38" text-anchor="middle" fill="#222244" stroke="#222244" stroke-width="0.3">##</text>
<text x="813.80" y="838.20" font-family="'Liberation Sans',sans-serif" font-size="11.38" text-anchor="middle" fill="#222244" stroke="#222244" stroke-width="0.3">##</text>
<text x="827.70" y="820.30" font-family="'Liberation Sans',sans-serif" font-size="11.38" text-anchor="middle" fill="#222244" stroke="#222244" stroke-width="0.3">##</text>
</g>
<g id="d3">
<rect x="1219.50" y="910.50" width="18.60" height="137.60" fill="#4B629E"/>
<line x1="1257.00" y1="973.00" x2="1257.00" y2="959.30" stroke="#9a9bc6" stroke-width="1.3"/>
<line x1="1252.54" y1="959.30" x2="1261.46" y2="959.30" stroke="#9a9bc6" stroke-width="1.3"/>
<rect x="1247.70" y="972.50" width="18.60" height="75.60" fill="#8A8BC0"/>
<line x1="1285.20" y1="940.10" x2="1285.20" y2="922.00" stroke="#bdb0d0" stroke-width="1.3"/>
<line x1="1280.74" y1="922.00" x2="1289.66" y2="922.00" stroke="#bdb0d0" stroke-width="1.3"/>
<rect x="1275.90" y="939.60" width="18.60" height="108.50" fill="#B7A4CF"/>
<line x1="1313.40" y1="892.30" x2="1313.40" y2="882.90" stroke="#e3b4c0" stroke-width="1.3"/>
<line x1="1308.94" y1="882.90" x2="1317.86" y2="882.90" stroke="#e3b4c0" stroke-width="1.3"/>
<rect x="1304.10" y="891.80" width="18.60" height="156.30" fill="#E8B9C8"/>
<line x1="1341.60" y1="910.50" x2="1341.60" y2="892.40" stroke="#f8d2a6" stroke-width="1.3"/>
<line x1="1337.14" y1="892.40" x2="1346.06" y2="892.40" stroke="#f8d2a6" stroke-width="1.3"/>
<rect x="1332.30" y="910.00" width="18.60" height="138.10" fill="#FCCB9C"/>
<line x1="1369.80" y1="965.10" x2="1369.80" y2="927.00" stroke="#ec9f88" stroke-width="1.3"/>
<line x1="1365.34" y1="927.00" x2="1374.26" y2="927.00" stroke="#ec9f88" stroke-width="1.3"/>
<rect x="1360.50" y="964.60" width="18.60" height="83.50" fill="#EFA081"/>
<line x1="1398.00" y1="908.60" x2="1398.00" y2="870.80" stroke="#c4938b" stroke-width="1.3"/>
<line x1="1393.54" y1="870.80" x2="1402.46" y2="870.80" stroke="#c4938b" stroke-width="1.3"/>
<rect x="1388.70" y="908.10" width="18.60" height="140.00" fill="#B7746A"/>
<line x1="1210.30" y1="840.40" x2="1210.30" y2="1049.10" stroke="#2B3289" stroke-width="2.0"/>
<line x1="1201.60" y1="1048.10" x2="1418.30" y2="1048.10" stroke="#2B3289" stroke-width="2.0"/>
<line x1="1201.60" y1="1048.10" x2="1210.30" y2="1048.10" stroke="#2B3289" stroke-width="2.0"/>
<text x="1199.00" y="1053.60" font-family="'Liberation Sans',sans-serif" font-size="15" font-weight="bold" text-anchor="end" fill="#262626">0.0</text>
<line x1="1201.60" y1="979.20" x2="1210.30" y2="979.20" stroke="#2B3289" stroke-width="2.0"/>
<text x="1199.00" y="984.70" font-family="'Liberation Sans',sans-serif" font-size="15" font-weight="bold" text-anchor="end" fill="#262626">0.5</text>
<line x1="1201.60" y1="910.30" x2="1210.30" y2="910.30" stroke="#2B3289" stroke-width="2.0"/>
<text x="1199.00" y="915.80" font-family="'Liberation Sans',sans-serif" font-size="15" font-weight="bold" text-anchor="end" fill="#262626">1.0</text>
<line x1="1201.60" y1="841.40" x2="1210.30" y2="841.40" stroke="#2B3289" stroke-width="2.0"/>
<text x="1199.00" y="846.90" font-family="'Liberation Sans',sans-serif" font-size="15" font-weight="bold" text-anchor="end" fill="#262626">1.5</text>
<line x1="1228.80" y1="1048.10" x2="1228.80" y2="1056.50" stroke="#2B3289" stroke-width="2.0"/>
<line x1="1257.00" y1="1048.10" x2="1257.00" y2="1056.50" stroke="#2B3289" stroke-width="2.0"/>
<line x1="1285.20" y1="1048.10" x2="1285.20" y2="1056.50" stroke="#2B3289" stroke-width="2.0"/>
<line x1="1313.40" y1="1048.10" x2="1313.40" y2="1056.50" stroke="#2B3289" stroke-width="2.0"/>
<line x1="1341.60" y1="1048.10" x2="1341.60" y2="1056.50" stroke="#2B3289" stroke-width="2.0"/>
<line x1="1369.80" y1="1048.10" x2="1369.80" y2="1056.50" stroke="#2B3289" stroke-width="2.0"/>
<line x1="1398.00" y1="1048.10" x2="1398.00" y2="1056.50" stroke="#2B3289" stroke-width="2.0"/>
<text x="1167.40" y="1054.40" font-family="'Liberation Serif','Noto Serif CJK SC',serif" font-size="17.6" font-weight="bold" transform="rotate(-90 1167.40 1054.40)" textLength="219.80" lengthAdjust="spacingAndGlyphs">Relative level of Cplx1 protein</text>
<path d="M1228.20 904.70V890.30H1256.80V951.50" stroke="#343b82" stroke-width="2.0" fill="none"/>
<path d="M1256.80 885.80V865.60H1313.50V878.40" stroke="#343b82" stroke-width="2.0" fill="none"/>
<path d="M1256.80 860.90V847.20H1341.40V887.90" stroke="#343b82" stroke-width="2.0" fill="none"/>
<path d="M1256.80 841.20V828.00H1397.60V864.00" stroke="#343b82" stroke-width="2.0" fill="none"/>
<text x="1242.60" y="890.27" font-family="'Liberation Sans',sans-serif" font-size="26" font-weight="bold" text-anchor="middle" fill="#1c1c3a">*</text>
<text x="1285.20" y="857.10" font-family="'Liberation Sans',sans-serif" font-size="11.38" text-anchor="middle" fill="#222244" stroke="#222244" stroke-width="0.3">##</text>
<text x="1299.10" y="838.70" font-family="'Liberation Sans',sans-serif" font-size="11.38" text-anchor="middle" fill="#222244" stroke="#222244" stroke-width="0.3">#</text>
<text x="1326.90" y="819.80" font-family="'Liberation Sans',sans-serif" font-size="11.38" text-anchor="middle" fill="#222244" stroke="#222244" stroke-width="0.3">#</text>
</g>
<defs>
<filter id="bl0" x="-30%" y="-200%" width="160%" height="500%"><feGaussianBlur stdDeviation="0.6"/></filter>
<filter id="bl1" x="-30%" y="-200%" width="160%" height="500%"><feGaussianBlur stdDeviation="1.0"/></filter>
<filter id="bl2" x="-30%" y="-200%" width="160%" height="500%"><feGaussianBlur stdDeviation="1.6"/></filter>
<filter id="bl3" x="-30%" y="-200%" width="160%" height="500%"><feGaussianBlur stdDeviation="2.4"/></filter>
</defs>
<g id="w1">
<rect x="160.30" y="665.60" width="291.30" height="42.20" fill="#fdfdfd"/>
<clipPath id="w1c0"><rect x="160.3" y="665.6" width="291.3" height="42.19999999999993"/></clipPath>
<g clip-path="url(#w1c0)">
<rect x="188.30" y="695.50" width="33.60" height="3.00" rx="7.00" ry="1.50" fill="#000" opacity="0.12" filter="url(#bl2)"/>
<rect x="188.30" y="701.25" width="33.60" height="2.50" rx="7.00" ry="1.25" fill="#000" opacity="0.06" filter="url(#bl2)"/>
<rect x="187.30" y="685.00" width="35.60" height="9.00" rx="7.00" ry="4.50" fill="#000" opacity="0.25" filter="url(#bl2)"/>
<rect x="227.30" y="695.30" width="26.20" height="3.00" rx="7.00" ry="1.50" fill="#000" opacity="0.114" filter="url(#bl2)"/>
<rect x="227.30" y="701.05" width="26.20" height="2.50" rx="7.00" ry="1.25" fill="#000" opacity="0.057" filter="url(#bl2)"/>
<rect x="226.30" y="684.80" width="28.20" height="9.00" rx="7.00" ry="4.50" fill="#000" opacity="0.237" filter="url(#bl2)"/>
<rect x="258.90" y="695.00" width="32.00" height="3.00" rx="7.00" ry="1.50" fill="#000" opacity="0.116" filter="url(#bl2)"/>
<rect x="258.90" y="700.75" width="32.00" height="2.50" rx="7.00" ry="1.25" fill="#000" opacity="0.058" filter="url(#bl2)"/>
<rect x="257.90" y="684.50" width="34.00" height="9.00" rx="7.00" ry="4.50" fill="#000" opacity="0.242" filter="url(#bl2)"/>
<rect x="295.90" y="694.50" width="32.90" height="3.00" rx="7.00" ry="1.50" fill="#000" opacity="0.102" filter="url(#bl2)"/>
<rect x="295.90" y="700.25" width="32.90" height="2.50" rx="7.00" ry="1.25" fill="#000" opacity="0.051" filter="url(#bl2)"/>
<rect x="294.90" y="684.00" width="34.90" height="9.00" rx="7.00" ry="4.50" fill="#000" opacity="0.212" filter="url(#bl2)"/>
<rect x="333.80" y="694.50" width="30.20" height="3.00" rx="7.00" ry="1.50" fill="#000" opacity="0.114" filter="url(#bl2)"/>
<rect x="333.80" y="700.25" width="30.20" height="2.50" rx="7.00" ry="1.25" fill="#000" opacity="0.057" filter="url(#bl2)"/>
<rect x="332.80" y="684.00" width="32.20" height="9.00" rx="7.00" ry="4.50" fill="#000" opacity="0.237" filter="url(#bl2)"/>
<rect x="369.40" y="694.50" width="32.50" height="3.00" rx="7.00" ry="1.50" fill="#000" opacity="0.12" filter="url(#bl2)"/>
<rect x="369.40" y="700.25" width="32.50" height="2.50" rx="7.00" ry="1.25" fill="#000" opacity="0.06" filter="url(#bl2)"/>
<rect x="368.40" y="684.00" width="34.50" height="9.00" rx="7.00" ry="4.50" fill="#000" opacity="0.25" filter="url(#bl2)"/>
<rect x="407.00" y="695.00" width="30.10" height="3.00" rx="7.00" ry="1.50" fill="#000" opacity="0.11" filter="url(#bl2)"/>
<rect x="407.00" y="700.75" width="30.10" height="2.50" rx="7.00" ry="1.25" fill="#000" opacity="0.055" filter="url(#bl2)"/>
<rect x="406.00" y="684.50" width="32.10" height="9.00" rx="7.00" ry="4.50" fill="#000" opacity="0.23" filter="url(#bl2)"/>
<rect x="188.30" y="686.25" width="33.60" height="6.50" rx="7.00" ry="3.25" fill="#000" opacity="1" filter="url(#bl1)"/>
<rect x="227.30" y="686.05" width="26.20" height="6.50" rx="7.00" ry="3.25" fill="#000" opacity="0.95" filter="url(#bl1)" transform="rotate(-4 240.40 689.30)"/>
<rect x="258.90" y="686.00" width="32.00" height="6.00" rx="7.00" ry="3.00" fill="#000" opacity="0.97" filter="url(#bl1)" transform="rotate(-3 274.90 689.00)"/>
<rect x="295.90" y="686.00" width="32.90" height="5.00" rx="7.00" ry="2.50" fill="#000" opacity="0.85" filter="url(#bl1)"/>
<rect x="333.80" y="685.50" width="30.20" height="6.00" rx="7.00" ry="3.00" fill="#000" opacity="0.95" filter="url(#bl1)" transform="rotate(3 348.90 688.50)"/>
<rect x="369.40" y="685.25" width="32.50" height="6.50" rx="7.00" ry="3.25" fill="#000" opacity="1" filter="url(#bl1)"/>
<rect x="407.00" y="686.25" width="30.10" height="5.50" rx="7.00" ry="2.75" fill="#000" opacity="0.92" filter="url(#bl1)"/>
</g>
<rect x="160.3" y="665.6" width="291.3" height="42.19999999999993" fill="none" stroke="#222" stroke-width="1.0"/>
<text x="71.00" y="694.90" font-family="'Liberation Serif','Noto Serif CJK SC',serif" font-size="20.7" font-weight="bold">GAPDH</text>
<text x="474.00" y="694.90" font-family="'Liberation Serif','Noto Serif CJK SC',serif" font-size="20.7" font-weight="bold">36KD</text>
<rect x="160.30" y="723.10" width="291.30" height="42.20" fill="#fdfdfd"/>
<clipPath id="w1c1"><rect x="160.3" y="723.1" width="291.3" height="42.19999999999993"/></clipPath>
<g clip-path="url(#w1c1)">
<rect x="186.00" y="740.30" width="34.50" height="9.00" rx="7.00" ry="4.50" fill="#000" opacity="0.213" filter="url(#bl3)"/>
<rect x="222.70" y="738.50" width="30.70" height="9.00" rx="7.00" ry="4.50" fill="#000" opacity="0.22" filter="url(#bl3)"/>
<rect x="256.50" y="740.00" width="33.20" height="9.00" rx="7.00" ry="4.50" fill="#000" opacity="0.176" filter="url(#bl3)"/>
<rect x="293.10" y="740.30" width="32.20" height="9.00" rx="7.00" ry="4.50" fill="#000" opacity="0.194" filter="url(#bl3)"/>
<rect x="330.50" y="741.50" width="33.60" height="9.00" rx="7.00" ry="4.50" fill="#000" opacity="0.187" filter="url(#bl3)"/>
<rect x="366.60" y="741.80" width="34.50" height="9.00" rx="7.00" ry="4.50" fill="#000" opacity="0.198" filter="url(#bl3)"/>
<rect x="404.00" y="742.80" width="32.30" height="9.00" rx="7.00" ry="4.50" fill="#000" opacity="0.202" filter="url(#bl3)"/>
<rect x="187.00" y="743.30" width="32.50" height="5.00" rx="7.00" ry="2.50" fill="#000" opacity="0.97" filter="url(#bl1)"/>
<rect x="223.70" y="739.50" width="28.70" height="9.00" rx="7.00" ry="4.50" fill="#000" opacity="1" filter="url(#bl1)"/>
<rect x="257.50" y="743.50" width="31.20" height="4.00" rx="7.00" ry="2.00" fill="#000" opacity="0.8" filter="url(#bl1)"/>
<rect x="294.10" y="743.55" width="30.20" height="4.50" rx="7.00" ry="2.25" fill="#000" opacity="0.88" filter="url(#bl1)"/>
<rect x="331.50" y="745.00" width="31.60" height="4.00" rx="7.00" ry="2.00" fill="#000" opacity="0.85" filter="url(#bl1)"/>
<rect x="367.60" y="745.05" width="32.50" height="4.50" rx="7.00" ry="2.25" fill="#000" opacity="0.9" filter="url(#bl1)"/>
<rect x="405.00" y="746.05" width="30.30" height="4.50" rx="7.00" ry="2.25" fill="#000" opacity="0.92" filter="url(#bl1)"/>
</g>
<rect x="160.3" y="723.1" width="291.3" height="42.19999999999993" fill="none" stroke="#000" stroke-width="1.4"/>
<text x="71.00" y="753.60" font-family="'Liberation Serif','Noto Serif CJK SC',serif" font-size="20.7" font-weight="bold" textLength="42.60" lengthAdjust="spacingAndGlyphs">Tac3</text>
<text x="474.00" y="753.60" font-family="'Liberation Serif','Noto Serif CJK SC',serif" font-size="20.7" font-weight="bold">17KD</text>
<text x="180.80" y="781.50" font-family="'Liberation Serif','Noto Serif CJK SC',serif" font-size="10.5" font-weight="bold" font-style="italic" textLength="30.80" lengthAdjust="spacingAndGlyphs">control</text>
<text x="216.70" y="781.50" font-family="'Liberation Serif','Noto Serif CJK SC',serif" font-size="10.5" font-weight="bold" font-style="italic" textLength="26.40" lengthAdjust="spacingAndGlyphs">model</text>
<text x="247.90" y="781.50" font-family="'Liberation Serif','Noto Serif CJK SC',serif" font-size="10.5" font-weight="bold" font-style="italic" textLength="44.70" lengthAdjust="spacingAndGlyphs">xiangshao</text>
<text x="298.00" y="781.50" font-family="'Liberation Serif','Noto Serif CJK SC',serif" font-size="10.5" font-weight="bold" font-style="italic" textLength="20.30" lengthAdjust="spacingAndGlyphs">E+P</text>
<text x="327.80" y="781.50" font-family="'Liberation Serif','Noto Serif CJK SC',serif" font-size="10.5" font-weight="bold" font-style="italic" textLength="20.00" lengthAdjust="spacingAndGlyphs">SGL</text>
<text x="363.30" y="781.50" font-family="'Liberation Serif','Noto Serif CJK SC',serif" font-size="10.5" font-weight="bold" font-style="italic" textLength="22.70" lengthAdjust="spacingAndGlyphs">SGM</text>
<text x="402.30" y="781.50" font-family="'Liberation Serif','Noto Serif CJK SC',serif" font-size="10.5" font-weight="bold" font-style="italic" textLength="21.30" lengthAdjust="spacingAndGlyphs">SGH</text>
</g>
<g id="w2">
<rect x="645.20" y="665.40" width="291.80" height="42.90" fill="#fdfdfd"/>
<clipPath id="w2c0"><rect x="645.2" y="665.4" width="291.79999999999995" height="42.89999999999998"/></clipPath>
<g clip-path="url(#w2c0)">
<rect x="669.20" y="683.40" width="29.40" height="3.00" rx="7.00" ry="1.50" fill="#000" opacity="0.095" filter="url(#bl2)"/>
<rect x="669.20" y="678.40" width="29.40" height="3.00" rx="7.00" ry="1.50" fill="#000" opacity="0.067" filter="url(#bl2)"/>
<rect x="668.20" y="688.40" width="31.40" height="6.00" rx="7.00" ry="3.00" fill="#000" opacity="0.19" filter="url(#bl2)"/>
<rect x="705.60" y="683.00" width="27.10" height="3.00" rx="7.00" ry="1.50" fill="#000" opacity="0.097" filter="url(#bl2)"/>
<rect x="705.60" y="678.00" width="27.10" height="3.00" rx="7.00" ry="1.50" fill="#000" opacity="0.068" filter="url(#bl2)"/>
<rect x="704.60" y="688.00" width="29.10" height="6.00" rx="7.00" ry="3.00" fill="#000" opacity="0.194" filter="url(#bl2)"/>
<rect x="739.50" y="682.00" width="30.50" height="3.00" rx="7.00" ry="1.50" fill="#000" opacity="0.095" filter="url(#bl2)"/>
<rect x="739.50" y="677.00" width="30.50" height="3.00" rx="7.00" ry="1.50" fill="#000" opacity="0.067" filter="url(#bl2)"/>
<rect x="738.50" y="687.00" width="32.50" height="6.00" rx="7.00" ry="3.00" fill="#000" opacity="0.19" filter="url(#bl2)"/>
<rect x="777.00" y="680.80" width="28.80" height="3.00" rx="7.00" ry="1.50" fill="#000" opacity="0.095" filter="url(#bl2)"/>
<rect x="777.00" y="675.80" width="28.80" height="3.00" rx="7.00" ry="1.50" fill="#000" opacity="0.067" filter="url(#bl2)"/>
<rect x="776.00" y="685.80" width="30.80" height="6.00" rx="7.00" ry="3.00" fill="#000" opacity="0.19" filter="url(#bl2)"/>
<rect x="812.60" y="680.30" width="30.20" height="3.00" rx="7.00" ry="1.50" fill="#000" opacity="0.092" filter="url(#bl2)"/>
<rect x="812.60" y="675.30" width="30.20" height="3.00" rx="7.00" ry="1.50" fill="#000" opacity="0.064" filter="url(#bl2)"/>
<rect x="811.60" y="685.30" width="32.20" height="6.00" rx="7.00" ry="3.00" fill="#000" opacity="0.184" filter="url(#bl2)"/>
<rect x="848.40" y="680.50" width="30.80" height="3.00" rx="7.00" ry="1.50" fill="#000" opacity="0.09" filter="url(#bl2)"/>
<rect x="848.40" y="675.50" width="30.80" height="3.00" rx="7.00" ry="1.50" fill="#000" opacity="0.063" filter="url(#bl2)"/>
<rect x="847.40" y="685.50" width="32.80" height="6.00" rx="7.00" ry="3.00" fill="#000" opacity="0.18" filter="url(#bl2)"/>
<rect x="886.20" y="679.70" width="28.20" height="3.00" rx="7.00" ry="1.50" fill="#000" opacity="0.09" filter="url(#bl2)"/>
<rect x="886.20" y="674.70" width="28.20" height="3.00" rx="7.00" ry="1.50" fill="#000" opacity="0.063" filter="url(#bl2)"/>
<rect x="885.20" y="684.70" width="30.20" height="6.00" rx="7.00" ry="3.00" fill="#000" opacity="0.18" filter="url(#bl2)"/>
<rect x="669.20" y="689.65" width="29.40" height="3.50" rx="7.00" ry="1.75" fill="#000" opacity="0.95" filter="url(#bl0)"/>
<rect x="705.60" y="688.90" width="27.10" height="4.20" rx="7.00" ry="2.10" fill="#000" opacity="0.97" filter="url(#bl0)"/>
<rect x="739.50" y="688.25" width="30.50" height="3.50" rx="7.00" ry="1.75" fill="#000" opacity="0.95" filter="url(#bl0)"/>
<rect x="777.00" y="686.80" width="28.80" height="4.00" rx="7.00" ry="2.00" fill="#000" opacity="0.95" filter="url(#bl0)" transform="rotate(-3 791.40 688.80)"/>
<rect x="812.60" y="686.55" width="30.20" height="3.50" rx="7.00" ry="1.75" fill="#000" opacity="0.92" filter="url(#bl0)"/>
<rect x="848.40" y="686.90" width="30.80" height="3.20" rx="7.00" ry="1.60" fill="#000" opacity="0.9" filter="url(#bl0)"/>
<rect x="886.20" y="686.10" width="28.20" height="3.20" rx="7.00" ry="1.60" fill="#000" opacity="0.9" filter="url(#bl0)"/>
</g>
<rect x="645.2" y="665.4" width="291.79999999999995" height="42.89999999999998" fill="none" stroke="#1a1a1a" stroke-width="1.3"/>
<text x="556.40" y="695.90" font-family="'Liberation Serif','Noto Serif CJK SC',serif" font-size="20.7" font-weight="bold" textLength="52.40" lengthAdjust="spacingAndGlyphs">Tacr3</text>
<text x="960.00" y="695.90" font-family="'Liberation Serif','Noto Serif CJK SC',serif" font-size="20.7" font-weight="bold">52KD</text>
<rect x="645.20" y="724.40" width="291.80" height="42.30" fill="#fdfdfd"/>
<clipPath id="w2c1"><rect x="645.2" y="724.4" width="291.79999999999995" height="42.30000000000007"/></clipPath>
<g clip-path="url(#w2c1)">
<rect x="672.60" y="750.30" width="31.10" height="3.00" rx="7.00" ry="1.50" fill="#000" opacity="0.097" filter="url(#bl2)"/>
<rect x="672.60" y="755.30" width="31.10" height="3.00" rx="7.00" ry="1.50" fill="#000" opacity="0.068" filter="url(#bl2)"/>
<rect x="671.60" y="739.30" width="33.10" height="9.00" rx="7.00" ry="4.50" fill="#000" opacity="0.242" filter="url(#bl2)"/>
<rect x="706.50" y="751.00" width="32.40" height="3.00" rx="7.00" ry="1.50" fill="#000" opacity="0.095" filter="url(#bl2)"/>
<rect x="706.50" y="756.00" width="32.40" height="3.00" rx="7.00" ry="1.50" fill="#000" opacity="0.067" filter="url(#bl2)"/>
<rect x="705.50" y="740.00" width="34.40" height="9.00" rx="7.00" ry="4.50" fill="#000" opacity="0.237" filter="url(#bl2)"/>
<rect x="742.30" y="751.10" width="32.70" height="3.00" rx="7.00" ry="1.50" fill="#000" opacity="0.095" filter="url(#bl2)"/>
<rect x="742.30" y="756.10" width="32.70" height="3.00" rx="7.00" ry="1.50" fill="#000" opacity="0.067" filter="url(#bl2)"/>
<rect x="741.30" y="740.10" width="34.70" height="9.00" rx="7.00" ry="4.50" fill="#000" opacity="0.237" filter="url(#bl2)"/>
<rect x="778.40" y="751.00" width="32.50" height="3.00" rx="7.00" ry="1.50" fill="#000" opacity="0.095" filter="url(#bl2)"/>
<rect x="778.40" y="756.00" width="32.50" height="3.00" rx="7.00" ry="1.50" fill="#000" opacity="0.067" filter="url(#bl2)"/>
<rect x="777.40" y="740.00" width="34.50" height="9.00" rx="7.00" ry="4.50" fill="#000" opacity="0.237" filter="url(#bl2)"/>
<rect x="814.60" y="751.00" width="33.00" height="3.00" rx="7.00" ry="1.50" fill="#000" opacity="0.097" filter="url(#bl2)"/>
<rect x="814.60" y="756.00" width="33.00" height="3.00" rx="7.00" ry="1.50" fill="#000" opacity="0.068" filter="url(#bl2)"/>
<rect x="813.60" y="740.00" width="35.00" height="9.00" rx="7.00" ry="4.50" fill="#000" opacity="0.242" filter="url(#bl2)"/>
<rect x="851.00" y="751.70" width="32.70" height="3.00" rx="7.00" ry="1.50" fill="#000" opacity="0.095" filter="url(#bl2)"/>
<rect x="851.00" y="756.70" width="32.70" height="3.00" rx="7.00" ry="1.50" fill="#000" opacity="0.067" filter="url(#bl2)"/>
<rect x="850.00" y="740.70" width="34.70" height="9.00" rx="7.00" ry="4.50" fill="#000" opacity="0.237" filter="url(#bl2)"/>
<rect x="887.00" y="752.00" width="31.70" height="3.00" rx="7.00" ry="1.50" fill="#000" opacity="0.095" filter="url(#bl2)"/>
<rect x="887.00" y="757.00" width="31.70" height="3.00" rx="7.00" ry="1.50" fill="#000" opacity="0.067" filter="url(#bl2)"/>
<rect x="886.00" y="741.00" width="33.70" height="9.00" rx="7.00" ry="4.50" fill="#000" opacity="0.237" filter="url(#bl2)"/>
<rect x="672.60" y="740.80" width="31.10" height="6.00" rx="7.00" ry="3.00" fill="#000" opacity="0.97" filter="url(#bl1)"/>
<rect x="706.50" y="741.75" width="32.40" height="5.50" rx="7.00" ry="2.75" fill="#000" opacity="0.95" filter="url(#bl1)"/>
<rect x="742.30" y="741.85" width="32.70" height="5.50" rx="7.00" ry="2.75" fill="#000" opacity="0.95" filter="url(#bl1)"/>
<rect x="778.40" y="742.00" width="32.50" height="5.00" rx="7.00" ry="2.50" fill="#000" opacity="0.95" filter="url(#bl1)"/>
<rect x="814.60" y="741.50" width="33.00" height="6.00" rx="7.00" ry="3.00" fill="#000" opacity="0.97" filter="url(#bl1)"/>
<rect x="851.00" y="742.45" width="32.70" height="5.50" rx="7.00" ry="2.75" fill="#000" opacity="0.95" filter="url(#bl1)"/>
<rect x="887.00" y="742.75" width="31.70" height="5.50" rx="7.00" ry="2.75" fill="#000" opacity="0.95" filter="url(#bl1)"/>
</g>
<rect x="645.2" y="724.4" width="291.79999999999995" height="42.30000000000007" fill="none" stroke="#111" stroke-width="1.4"/>
<text x="556.40" y="753.30" font-family="'Liberation Serif','Noto Serif CJK SC',serif" font-size="20.7" font-weight="bold" textLength="75.20" lengthAdjust="spacingAndGlyphs">GAPDH</text>
<text x="960.00" y="753.30" font-family="'Liberation Serif','Noto Serif CJK SC',serif" font-size="20.7" font-weight="bold">36KD</text>
<text x="669.80" y="781.50" font-family="'Liberation Serif','Noto Serif CJK SC',serif" font-size="10.5" font-weight="bold" font-style="italic" textLength="31.00" lengthAdjust="spacingAndGlyphs">control</text>
<text x="705.30" y="781.50" font-family="'Liberation Serif','Noto Serif CJK SC',serif" font-size="10.5" font-weight="bold" font-style="italic" textLength="26.60" lengthAdjust="spacingAndGlyphs">model</text>
<text x="736.70" y="781.50" font-family="'Liberation Serif','Noto Serif CJK SC',serif" font-size="10.5" font-weight="bold" font-style="italic" textLength="45.10" lengthAdjust="spacingAndGlyphs">xiangshao</text>
<text x="787.20" y="781.50" font-family="'Liberation Serif','Noto Serif CJK SC',serif" font-size="10.5" font-weight="bold" font-style="italic" textLength="19.50" lengthAdjust="spacingAndGlyphs">E+P</text>
<text x="817.10" y="781.50" font-family="'Liberation Serif','Noto Serif CJK SC',serif" font-size="10.5" font-weight="bold" font-style="italic" textLength="19.70" lengthAdjust="spacingAndGlyphs">SGL</text>
<text x="851.80" y="781.50" font-family="'Liberation Serif','Noto Serif CJK SC',serif" font-size="10.5" font-weight="bold" font-style="italic" textLength="24.00" lengthAdjust="spacingAndGlyphs">SGM</text>
<text x="890.70" y="781.50" font-family="'Liberation Serif','Noto Serif CJK SC',serif" font-size="10.5" font-weight="bold" font-style="italic" textLength="22.30" lengthAdjust="spacingAndGlyphs">SGH</text>
</g>
<g id="w3">
<rect x="1137.20" y="666.00" width="291.50" height="42.00" fill="#fdfdfd"/>
<clipPath id="w3c0"><rect x="1137.2" y="666.0" width="291.5" height="42.0"/></clipPath>
<g clip-path="url(#w3c0)">
<rect x="1164.00" y="690.50" width="28.20" height="3.00" rx="7.00" ry="1.50" fill="#000" opacity="0.291" filter="url(#bl1)"/>
<rect x="1164.00" y="696.60" width="28.20" height="2.80" rx="7.00" ry="1.40" fill="#000" opacity="0.194" filter="url(#bl1)"/>
<rect x="1164.00" y="685.00" width="28.20" height="6.00" rx="7.00" ry="3.00" fill="#000" opacity="0.242" filter="url(#bl2)"/>
<rect x="1163.00" y="679.50" width="30.20" height="10.00" rx="7.00" ry="5.00" fill="#000" opacity="0.242" filter="url(#bl2)"/>
<rect x="1195.60" y="691.30" width="33.30" height="3.00" rx="7.00" ry="1.50" fill="#000" opacity="0.291" filter="url(#bl1)"/>
<rect x="1195.60" y="697.40" width="33.30" height="2.80" rx="7.00" ry="1.40" fill="#000" opacity="0.194" filter="url(#bl1)"/>
<rect x="1195.60" y="685.80" width="33.30" height="6.00" rx="7.00" ry="3.00" fill="#000" opacity="0.242" filter="url(#bl2)"/>
<rect x="1194.60" y="680.30" width="35.30" height="10.00" rx="7.00" ry="5.00" fill="#000" opacity="0.242" filter="url(#bl2)"/>
<rect x="1233.20" y="690.50" width="32.40" height="3.00" rx="7.00" ry="1.50" fill="#000" opacity="0.285" filter="url(#bl1)"/>
<rect x="1233.20" y="696.60" width="32.40" height="2.80" rx="7.00" ry="1.40" fill="#000" opacity="0.19" filter="url(#bl1)"/>
<rect x="1233.20" y="685.00" width="32.40" height="6.00" rx="7.00" ry="3.00" fill="#000" opacity="0.237" filter="url(#bl2)"/>
<rect x="1232.20" y="679.50" width="34.40" height="10.00" rx="7.00" ry="5.00" fill="#000" opacity="0.237" filter="url(#bl2)"/>
<rect x="1269.30" y="689.20" width="28.70" height="3.00" rx="7.00" ry="1.50" fill="#000" opacity="0.291" filter="url(#bl1)"/>
<rect x="1269.30" y="695.30" width="28.70" height="2.80" rx="7.00" ry="1.40" fill="#000" opacity="0.194" filter="url(#bl1)"/>
<rect x="1269.30" y="683.70" width="28.70" height="6.00" rx="7.00" ry="3.00" fill="#000" opacity="0.242" filter="url(#bl2)"/>
<rect x="1268.30" y="678.20" width="30.70" height="10.00" rx="7.00" ry="5.00" fill="#000" opacity="0.242" filter="url(#bl2)"/>
<rect x="1305.10" y="689.80" width="29.60" height="3.00" rx="7.00" ry="1.50" fill="#000" opacity="0.291" filter="url(#bl1)"/>
<rect x="1305.10" y="695.90" width="29.60" height="2.80" rx="7.00" ry="1.40" fill="#000" opacity="0.194" filter="url(#bl1)"/>
<rect x="1305.10" y="684.30" width="29.60" height="6.00" rx="7.00" ry="3.00" fill="#000" opacity="0.242" filter="url(#bl2)"/>
<rect x="1304.10" y="678.80" width="31.60" height="10.00" rx="7.00" ry="5.00" fill="#000" opacity="0.242" filter="url(#bl2)"/>
<rect x="1339.50" y="689.80" width="31.90" height="3.00" rx="7.00" ry="1.50" fill="#000" opacity="0.285" filter="url(#bl1)"/>
<rect x="1339.50" y="695.90" width="31.90" height="2.80" rx="7.00" ry="1.40" fill="#000" opacity="0.19" filter="url(#bl1)"/>
<rect x="1339.50" y="684.30" width="31.90" height="6.00" rx="7.00" ry="3.00" fill="#000" opacity="0.237" filter="url(#bl2)"/>
<rect x="1338.50" y="678.80" width="33.90" height="10.00" rx="7.00" ry="5.00" fill="#000" opacity="0.237" filter="url(#bl2)"/>
<rect x="1375.70" y="689.80" width="29.60" height="3.00" rx="7.00" ry="1.50" fill="#000" opacity="0.291" filter="url(#bl1)"/>
<rect x="1375.70" y="695.90" width="29.60" height="2.80" rx="7.00" ry="1.40" fill="#000" opacity="0.194" filter="url(#bl1)"/>
<rect x="1375.70" y="684.30" width="29.60" height="6.00" rx="7.00" ry="3.00" fill="#000" opacity="0.242" filter="url(#bl2)"/>
<rect x="1374.70" y="678.80" width="31.60" height="10.00" rx="7.00" ry="5.00" fill="#000" opacity="0.242" filter="url(#bl2)"/>
<rect x="1164.00" y="681.00" width="28.20" height="7.00" rx="7.00" ry="3.50" fill="#000" opacity="0.97" filter="url(#bl1)"/>
<rect x="1195.60" y="681.80" width="33.30" height="7.00" rx="7.00" ry="3.50" fill="#000" opacity="0.97" filter="url(#bl1)"/>
<rect x="1233.20" y="681.50" width="32.40" height="6.00" rx="7.00" ry="3.00" fill="#000" opacity="0.95" filter="url(#bl1)"/>
<rect x="1269.30" y="679.95" width="28.70" height="6.50" rx="7.00" ry="3.25" fill="#000" opacity="0.97" filter="url(#bl1)"/>
<rect x="1305.10" y="680.80" width="29.60" height="6.00" rx="7.00" ry="3.00" fill="#000" opacity="0.97" filter="url(#bl1)"/>
<rect x="1339.50" y="681.05" width="31.90" height="5.50" rx="7.00" ry="2.75" fill="#000" opacity="0.95" filter="url(#bl1)"/>
<rect x="1375.70" y="680.30" width="29.60" height="7.00" rx="7.00" ry="3.50" fill="#000" opacity="0.97" filter="url(#bl1)"/>
</g>
<rect x="1137.2" y="666.0" width="291.5" height="42.0" fill="none" stroke="#3a3a3a" stroke-width="1.1"/>
<text x="1048.50" y="695.00" font-family="'Liberation Serif','Noto Serif CJK SC',serif" font-size="20.7" font-weight="bold">GAPDH</text>
<text x="1451.30" y="695.00" font-family="'Liberation Serif','Noto Serif CJK SC',serif" font-size="20.7" font-weight="bold">36KD</text>
<rect x="1137.20" y="723.80" width="291.50" height="42.30" fill="#fdfdfd"/>
<clipPath id="w3c1"><rect x="1137.2" y="723.8" width="291.5" height="42.30000000000007"/></clipPath>
<g clip-path="url(#w3c1)">
<rect x="1159.20" y="739.80" width="29.40" height="7.00" rx="7.00" ry="3.50" fill="#000" opacity="0.38" filter="url(#bl3)"/>
<rect x="1157.20" y="741.30" width="33.40" height="11.00" rx="7.00" ry="5.50" fill="#000" opacity="0.19" filter="url(#bl3)"/>
<rect x="1195.00" y="742.30" width="29.70" height="7.00" rx="7.00" ry="3.50" fill="#000" opacity="0.14" filter="url(#bl3)"/>
<rect x="1193.00" y="743.80" width="33.70" height="11.00" rx="7.00" ry="5.50" fill="#000" opacity="0.07" filter="url(#bl3)"/>
<rect x="1230.90" y="741.50" width="31.00" height="7.00" rx="7.00" ry="3.50" fill="#000" opacity="0.32" filter="url(#bl3)"/>
<rect x="1228.90" y="743.00" width="35.00" height="11.00" rx="7.00" ry="5.50" fill="#000" opacity="0.16" filter="url(#bl3)"/>
<rect x="1267.90" y="739.50" width="29.30" height="7.00" rx="7.00" ry="3.50" fill="#000" opacity="0.388" filter="url(#bl3)"/>
<rect x="1265.90" y="741.00" width="33.30" height="11.00" rx="7.00" ry="5.50" fill="#000" opacity="0.194" filter="url(#bl3)"/>
<rect x="1302.30" y="741.00" width="28.20" height="7.00" rx="7.00" ry="3.50" fill="#000" opacity="0.36" filter="url(#bl3)"/>
<rect x="1300.30" y="742.50" width="32.20" height="11.00" rx="7.00" ry="5.50" fill="#000" opacity="0.18" filter="url(#bl3)"/>
<rect x="1337.60" y="741.50" width="29.60" height="7.00" rx="7.00" ry="3.50" fill="#000" opacity="0.056" filter="url(#bl3)"/>
<rect x="1335.60" y="743.00" width="33.60" height="11.00" rx="7.00" ry="5.50" fill="#000" opacity="0.028" filter="url(#bl3)"/>
<rect x="1373.40" y="740.00" width="32.70" height="7.00" rx="7.00" ry="3.50" fill="#000" opacity="0.4" filter="url(#bl3)"/>
<rect x="1371.40" y="741.50" width="36.70" height="11.00" rx="7.00" ry="5.50" fill="#000" opacity="0.2" filter="url(#bl3)"/>
<rect x="1159.20" y="743.30" width="29.40" height="7.00" rx="7.00" ry="3.50" fill="#000" opacity="0.95" filter="url(#bl2)"/>
<rect x="1195.00" y="747.55" width="29.70" height="3.50" rx="7.00" ry="1.75" fill="#000" opacity="0.35" filter="url(#bl2)"/>
<rect x="1230.90" y="746.00" width="31.00" height="5.00" rx="7.00" ry="2.50" fill="#000" opacity="0.8" filter="url(#bl2)"/>
<rect x="1267.90" y="742.50" width="29.30" height="8.00" rx="7.00" ry="4.00" fill="#000" opacity="0.97" filter="url(#bl2)"/>
<rect x="1302.30" y="745.00" width="28.20" height="6.00" rx="7.00" ry="3.00" fill="#000" opacity="0.9" filter="url(#bl2)"/>
<rect x="1337.60" y="747.00" width="29.60" height="3.00" rx="7.00" ry="1.50" fill="#000" opacity="0.14" filter="url(#bl2)"/>
<rect x="1373.40" y="742.50" width="32.70" height="9.00" rx="7.00" ry="4.50" fill="#000" opacity="1" filter="url(#bl2)"/>
</g>
<rect x="1137.2" y="723.8" width="291.5" height="42.30000000000007" fill="none" stroke="#000" stroke-width="1.4"/>
<text x="1048.50" y="754.30" font-family="'Liberation Serif','Noto Serif CJK SC',serif" font-size="20.7" font-weight="bold">Cplx1</text>
<text x="1451.30" y="754.30" font-family="'Liberation Serif','Noto Serif CJK SC',serif" font-size="20.7" font-weight="bold">15KD</text>
<text x="1158.40" y="781.70" font-family="'Liberation Serif','Noto Serif CJK SC',serif" font-size="10.5" font-weight="bold" font-style="italic" textLength="31.00" lengthAdjust="spacingAndGlyphs">control</text>
<text x="1193.70" y="781.70" font-family="'Liberation Serif','Noto Serif CJK SC',serif" font-size="10.5" font-weight="bold" font-style="italic" textLength="25.90" lengthAdjust="spacingAndGlyphs">model</text>
<text x="1224.70" y="781.70" font-family="'Liberation Serif','Noto Serif CJK SC',serif" font-size="10.5" font-weight="bold" font-style="italic" textLength="45.10" lengthAdjust="spacingAndGlyphs">xiangshao</text>
<text x="1275.50" y="781.70" font-family="'Liberation Serif','Noto Serif CJK SC',serif" font-size="10.5" font-weight="bold" font-style="italic" textLength="19.70" lengthAdjust="spacingAndGlyphs">E+P</text>
<text x="1305.70" y="781.70" font-family="'Liberation Serif','Noto Serif CJK SC',serif" font-size="10.5" font-weight="bold" font-style="italic" textLength="19.70" lengthAdjust="spacingAndGlyphs">SGL</text>
<text x="1340.40" y="781.70" font-family="'Liberation Serif','Noto Serif CJK SC',serif" font-size="10.5" font-weight="bold" font-style="italic" textLength="23.10" lengthAdjust="spacingAndGlyphs">SGM</text>
<text x="1379.30" y="781.70" font-family="'Liberation Serif','Noto Serif CJK SC',serif" font-size="10.5" font-weight="bold" font-style="italic" textLength="21.70" lengthAdjust="spacingAndGlyphs">SGH</text>
</g>
<g id="legend">
<rect x="1630.20" y="673.00" width="31.10" height="7.40" fill="#4B629E"/>
<text x="1669.80" y="680.80" font-family="'Liberation Serif','Noto Serif CJK SC',serif" font-size="10.3" font-weight="bold">control</text>
<rect x="1630.20" y="688.56" width="31.10" height="7.40" fill="#8A8BC0"/>
<text x="1669.80" y="696.36" font-family="'Liberation Serif','Noto Serif CJK SC',serif" font-size="10.3" font-weight="bold">model</text>
<rect x="1630.20" y="704.12" width="31.10" height="7.40" fill="#B7A4CF"/>
<text x="1669.80" y="711.92" font-family="'Liberation Serif','Noto Serif CJK SC',serif" font-size="10.3" font-weight="bold">xiangshao</text>
<rect x="1630.20" y="719.68" width="31.10" height="7.40" fill="#E8B9C8"/>
<text x="1669.80" y="727.48" font-family="'Liberation Serif','Noto Serif CJK SC',serif" font-size="10.3" font-weight="bold">E+P</text>
<rect x="1630.20" y="735.24" width="31.10" height="7.40" fill="#FCCB9C"/>
<text x="1669.80" y="743.04" font-family="'Liberation Serif','Noto Serif CJK SC',serif" font-size="10.3" font-weight="bold">PLE（40mg/kg）</text>
<rect x="1630.20" y="750.80" width="31.10" height="7.40" fill="#EFA081"/>
<text x="1669.80" y="758.60" font-family="'Liberation Serif','Noto Serif CJK SC',serif" font-size="10.3" font-weight="bold">PLE（80mg/kg）</text>
<rect x="1630.20" y="766.36" width="31.10" height="7.40" fill="#B7746A"/>
<text x="1669.80" y="774.16" font-family="'Liberation Serif','Noto Serif CJK SC',serif" font-size="10.3" font-weight="bold">PLE（160mg/kg）</text>
</g>
<text x="3.00" y="73.00" font-family="'Liberation Serif','Noto Serif CJK SC',serif" font-size="36" font-weight="bold">A</text>
<text x="684.30" y="72.20" font-family="'Liberation Serif','Noto Serif CJK SC',serif" font-size="32.5" font-weight="bold">B</text>
<text x="15.80" y="682.40" font-family="'Liberation Serif','Noto Serif CJK SC',serif" font-size="36" font-weight="bold">C</text>
<text x="17.20" y="796.30" font-family="'Liberation Serif','Noto Serif CJK SC',serif" font-size="35" font-weight="bold">D</text>
</g>
</svg>
</body></html>
